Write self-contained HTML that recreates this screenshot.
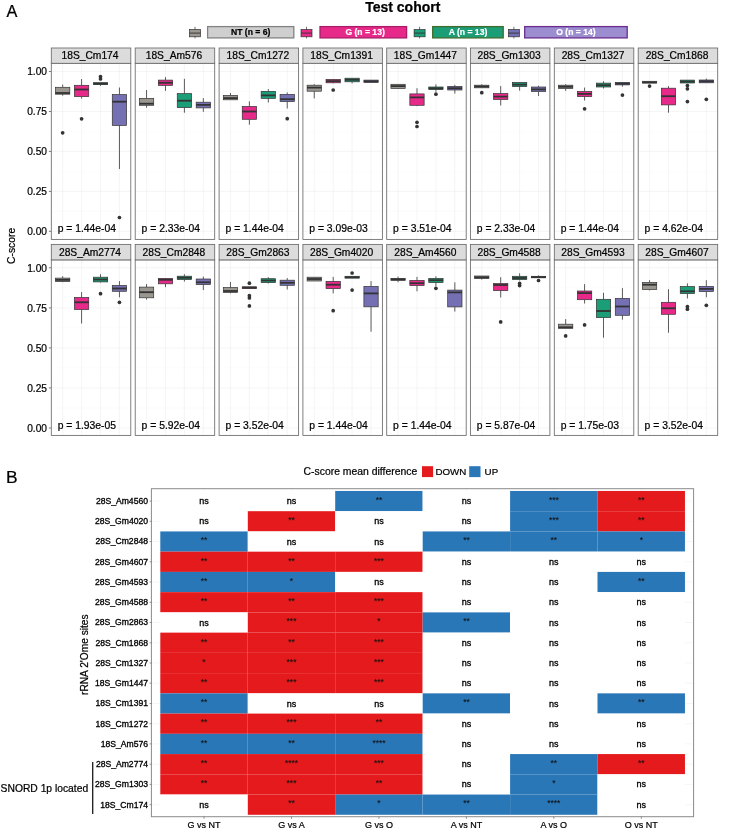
<!DOCTYPE html>
<html lang="en"><head><meta charset="utf-8"><title>Test cohort</title>
<style>html,body{margin:0;padding:0;background:#fff}svg{display:block}text{stroke:#000;stroke-width:.22px;paint-order:stroke fill}text.w{stroke:#fff;stroke-width:.2px}text.n{stroke:none}text.b{stroke-width:.32px}text.s{stroke:#111;stroke-width:.1px}</style></head>
<body>
<svg width="751" height="831" viewBox="0 0 751 831" font-family='"Liberation Sans", Arial, Helvetica, sans-serif'>
<rect width="751" height="831" fill="#fff"/>
<text x="6.6" y="16.8" font-size="16.3" fill="#000">A</text>
<text x="6.1" y="482.7" font-size="17.4" fill="#000">B</text>
<text x="402.8" y="11.5" font-size="14.0" font-weight="bold" text-anchor="middle" fill="#000">Test cohort</text>
<line x1="195.0" y1="26.8" x2="195.0" y2="38.4" stroke="#333333" stroke-width="0.7"/>
<rect x="189.5" y="29.5" width="11" height="7.3" fill="#9a9690" stroke="#333333" stroke-width="0.7"/>
<line x1="189.5" y1="33.1" x2="200.5" y2="33.1" stroke="#333333" stroke-width="0.9"/>
<rect x="207.6" y="26.6" width="86.2" height="11.3" fill="#cfcfcf" stroke="#828282" stroke-width="1.3"/>
<text x="250.7" y="35.2" font-size="8.6" font-weight="bold" text-anchor="middle" fill="#000" class="k">NT (n = 6)</text>
<line x1="306.5" y1="26.8" x2="306.5" y2="38.4" stroke="#333333" stroke-width="0.7"/>
<rect x="301.0" y="29.5" width="11" height="7.3" fill="#e7298a" stroke="#333333" stroke-width="0.7"/>
<line x1="301.0" y1="33.1" x2="312.0" y2="33.1" stroke="#333333" stroke-width="0.9"/>
<rect x="320.0" y="26.6" width="86.6" height="11.3" fill="#e7298a" stroke="#a81d66" stroke-width="1.3"/>
<text x="365.1" y="35.2" font-size="8.6" font-weight="bold" text-anchor="middle" fill="#fff" class="w">G (n = 13)</text>
<line x1="419.6" y1="26.8" x2="419.6" y2="38.4" stroke="#333333" stroke-width="0.7"/>
<rect x="414.1" y="29.5" width="11" height="7.3" fill="#1b9e77" stroke="#333333" stroke-width="0.7"/>
<line x1="414.1" y1="33.1" x2="425.1" y2="33.1" stroke="#333333" stroke-width="0.9"/>
<rect x="432.7" y="26.6" width="70.5" height="11.3" fill="#1b9e77" stroke="#3f6b2a" stroke-width="1.3"/>
<text x="468.0" y="35.2" font-size="8.6" font-weight="bold" text-anchor="middle" fill="#fff" class="w">A (n = 13)</text>
<line x1="513.9" y1="26.8" x2="513.9" y2="38.4" stroke="#333333" stroke-width="0.7"/>
<rect x="508.4" y="29.5" width="11" height="7.3" fill="#7570b3" stroke="#333333" stroke-width="0.7"/>
<line x1="508.4" y1="33.1" x2="519.4" y2="33.1" stroke="#333333" stroke-width="0.9"/>
<rect x="524.7" y="26.6" width="102.5" height="11.3" fill="#9b8dcf" stroke="#6a2d8f" stroke-width="1.3"/>
<text x="576.0" y="35.2" font-size="8.6" font-weight="bold" text-anchor="middle" fill="#fff" class="w">O (n = 14)</text>
<text transform="translate(15.0,245.9) rotate(-90)" font-size="10.3" text-anchor="middle" fill="#000">C-score</text>
<text x="47.0" y="75.2" font-size="10.2" text-anchor="end" fill="#000">1.00</text>
<line x1="48.9" y1="71.5" x2="51.3" y2="71.5" stroke="#444" stroke-width="0.7"/>
<text x="47.0" y="115.2" font-size="10.2" text-anchor="end" fill="#000">0.75</text>
<line x1="48.9" y1="111.5" x2="51.3" y2="111.5" stroke="#444" stroke-width="0.7"/>
<text x="47.0" y="155.1" font-size="10.2" text-anchor="end" fill="#000">0.50</text>
<line x1="48.9" y1="151.4" x2="51.3" y2="151.4" stroke="#444" stroke-width="0.7"/>
<text x="47.0" y="195.1" font-size="10.2" text-anchor="end" fill="#000">0.25</text>
<line x1="48.9" y1="191.4" x2="51.3" y2="191.4" stroke="#444" stroke-width="0.7"/>
<text x="47.0" y="235.0" font-size="10.2" text-anchor="end" fill="#000">0.00</text>
<line x1="48.9" y1="231.3" x2="51.3" y2="231.3" stroke="#444" stroke-width="0.7"/>
<g>
<rect x="51.3" y="63.3" width="79.5" height="176.1" fill="#fff"/>
<line x1="51.3" y1="91.5" x2="130.8" y2="91.5" stroke="#f8f8f8" stroke-width="0.45"/>
<line x1="51.3" y1="131.4" x2="130.8" y2="131.4" stroke="#f8f8f8" stroke-width="0.45"/>
<line x1="51.3" y1="171.4" x2="130.8" y2="171.4" stroke="#f8f8f8" stroke-width="0.45"/>
<line x1="51.3" y1="211.3" x2="130.8" y2="211.3" stroke="#f8f8f8" stroke-width="0.45"/>
<line x1="51.3" y1="71.5" x2="130.8" y2="71.5" stroke="#f0f0f0" stroke-width="0.65"/>
<line x1="51.3" y1="111.5" x2="130.8" y2="111.5" stroke="#f0f0f0" stroke-width="0.65"/>
<line x1="51.3" y1="151.4" x2="130.8" y2="151.4" stroke="#f0f0f0" stroke-width="0.65"/>
<line x1="51.3" y1="191.4" x2="130.8" y2="191.4" stroke="#f0f0f0" stroke-width="0.65"/>
<line x1="51.3" y1="231.3" x2="130.8" y2="231.3" stroke="#f0f0f0" stroke-width="0.65"/>
<line x1="62.7" y1="63.3" x2="62.7" y2="239.4" stroke="#f0f0f0" stroke-width="0.65"/>
<line x1="81.6" y1="63.3" x2="81.6" y2="239.4" stroke="#f0f0f0" stroke-width="0.65"/>
<line x1="100.5" y1="63.3" x2="100.5" y2="239.4" stroke="#f0f0f0" stroke-width="0.65"/>
<line x1="119.4" y1="63.3" x2="119.4" y2="239.4" stroke="#f0f0f0" stroke-width="0.65"/>
<line x1="62.66" y1="84.6" x2="62.66" y2="87.3" stroke="#333333" stroke-width="0.8"/>
<line x1="62.66" y1="94.2" x2="62.66" y2="95.7" stroke="#333333" stroke-width="0.8"/>
<rect x="55.51" y="87.3" width="14.30" height="6.9" fill="#9a9690" stroke="#333333" stroke-width="0.7"/>
<line x1="55.51" y1="93.0" x2="69.81" y2="93.0" stroke="#333333" stroke-width="1.8"/>
<circle cx="62.66" cy="132.8" r="1.85" fill="#333333"/>
<line x1="81.59" y1="79.0" x2="81.59" y2="85.3" stroke="#333333" stroke-width="0.8"/>
<line x1="81.59" y1="96.6" x2="81.59" y2="98.6" stroke="#333333" stroke-width="0.8"/>
<rect x="74.44" y="85.3" width="14.30" height="11.3" fill="#e7298a" stroke="#333333" stroke-width="0.7"/>
<line x1="74.44" y1="89.5" x2="88.74" y2="89.5" stroke="#333333" stroke-width="1.8"/>
<circle cx="81.59" cy="118.8" r="1.85" fill="#333333"/>
<line x1="100.51" y1="84.6" x2="100.51" y2="85.9" stroke="#333333" stroke-width="0.8"/>
<rect x="93.36" y="82.7" width="14.30" height="1.9" fill="#1b9e77" stroke="#333333" stroke-width="0.7"/>
<line x1="93.36" y1="83.7" x2="107.66" y2="83.7" stroke="#333333" stroke-width="1.8"/>
<circle cx="100.51" cy="76.6" r="1.85" fill="#333333"/>
<circle cx="100.51" cy="78.9" r="1.85" fill="#333333"/>
<line x1="119.44" y1="87.5" x2="119.44" y2="94.6" stroke="#333333" stroke-width="0.8"/>
<line x1="119.44" y1="125.4" x2="119.44" y2="169.0" stroke="#333333" stroke-width="0.8"/>
<rect x="112.29" y="94.6" width="14.30" height="30.8" fill="#7570b3" stroke="#333333" stroke-width="0.7"/>
<line x1="112.29" y1="101.7" x2="126.59" y2="101.7" stroke="#333333" stroke-width="1.8"/>
<circle cx="119.44" cy="217.5" r="1.85" fill="#333333"/>
<text x="57.7" y="232.3" font-size="10.35" fill="#000">p = 1.44e-04</text>
<rect x="51.3" y="63.3" width="79.5" height="176.1" fill="none" stroke="#6a6a6a" stroke-width="0.85"/>
<rect x="51.3" y="48.0" width="79.5" height="15.3" fill="#dcdcdc" stroke="#6a6a6a" stroke-width="0.85"/>
<text x="90.0" y="58.6" font-size="10.25" text-anchor="middle" fill="#000">18S_Cm174</text>
</g>
<g>
<rect x="135.2" y="63.3" width="79.5" height="176.1" fill="#fff"/>
<line x1="135.2" y1="91.5" x2="214.7" y2="91.5" stroke="#f8f8f8" stroke-width="0.45"/>
<line x1="135.2" y1="131.4" x2="214.7" y2="131.4" stroke="#f8f8f8" stroke-width="0.45"/>
<line x1="135.2" y1="171.4" x2="214.7" y2="171.4" stroke="#f8f8f8" stroke-width="0.45"/>
<line x1="135.2" y1="211.3" x2="214.7" y2="211.3" stroke="#f8f8f8" stroke-width="0.45"/>
<line x1="135.2" y1="71.5" x2="214.7" y2="71.5" stroke="#f0f0f0" stroke-width="0.65"/>
<line x1="135.2" y1="111.5" x2="214.7" y2="111.5" stroke="#f0f0f0" stroke-width="0.65"/>
<line x1="135.2" y1="151.4" x2="214.7" y2="151.4" stroke="#f0f0f0" stroke-width="0.65"/>
<line x1="135.2" y1="191.4" x2="214.7" y2="191.4" stroke="#f0f0f0" stroke-width="0.65"/>
<line x1="135.2" y1="231.3" x2="214.7" y2="231.3" stroke="#f0f0f0" stroke-width="0.65"/>
<line x1="146.6" y1="63.3" x2="146.6" y2="239.4" stroke="#f0f0f0" stroke-width="0.65"/>
<line x1="165.5" y1="63.3" x2="165.5" y2="239.4" stroke="#f0f0f0" stroke-width="0.65"/>
<line x1="184.4" y1="63.3" x2="184.4" y2="239.4" stroke="#f0f0f0" stroke-width="0.65"/>
<line x1="203.3" y1="63.3" x2="203.3" y2="239.4" stroke="#f0f0f0" stroke-width="0.65"/>
<line x1="146.56" y1="90.0" x2="146.56" y2="98.4" stroke="#333333" stroke-width="0.8"/>
<line x1="146.56" y1="105.3" x2="146.56" y2="107.7" stroke="#333333" stroke-width="0.8"/>
<rect x="139.41" y="98.4" width="14.30" height="6.9" fill="#9a9690" stroke="#333333" stroke-width="0.7"/>
<line x1="139.41" y1="103.7" x2="153.71" y2="103.7" stroke="#333333" stroke-width="1.8"/>
<line x1="165.49" y1="77.1" x2="165.49" y2="80.1" stroke="#333333" stroke-width="0.8"/>
<line x1="165.49" y1="85.4" x2="165.49" y2="90.9" stroke="#333333" stroke-width="0.8"/>
<rect x="158.34" y="80.1" width="14.30" height="5.3" fill="#e7298a" stroke="#333333" stroke-width="0.7"/>
<line x1="158.34" y1="82.8" x2="172.64" y2="82.8" stroke="#333333" stroke-width="1.8"/>
<line x1="184.41" y1="78.8" x2="184.41" y2="93.6" stroke="#333333" stroke-width="0.8"/>
<line x1="184.41" y1="107.6" x2="184.41" y2="112.7" stroke="#333333" stroke-width="0.8"/>
<rect x="177.26" y="93.6" width="14.30" height="14.0" fill="#1b9e77" stroke="#333333" stroke-width="0.7"/>
<line x1="177.26" y1="100.7" x2="191.56" y2="100.7" stroke="#333333" stroke-width="1.8"/>
<line x1="203.34" y1="98.1" x2="203.34" y2="102.2" stroke="#333333" stroke-width="0.8"/>
<line x1="203.34" y1="107.9" x2="203.34" y2="111.8" stroke="#333333" stroke-width="0.8"/>
<rect x="196.19" y="102.2" width="14.30" height="5.7" fill="#7570b3" stroke="#333333" stroke-width="0.7"/>
<line x1="196.19" y1="104.9" x2="210.49" y2="104.9" stroke="#333333" stroke-width="1.8"/>
<text x="141.6" y="232.3" font-size="10.35" fill="#000">p = 2.33e-04</text>
<rect x="135.2" y="63.3" width="79.5" height="176.1" fill="none" stroke="#6a6a6a" stroke-width="0.85"/>
<rect x="135.2" y="48.0" width="79.5" height="15.3" fill="#dcdcdc" stroke="#6a6a6a" stroke-width="0.85"/>
<text x="173.9" y="58.6" font-size="10.25" text-anchor="middle" fill="#000">18S_Am576</text>
</g>
<g>
<rect x="219.1" y="63.3" width="79.5" height="176.1" fill="#fff"/>
<line x1="219.1" y1="91.5" x2="298.6" y2="91.5" stroke="#f8f8f8" stroke-width="0.45"/>
<line x1="219.1" y1="131.4" x2="298.6" y2="131.4" stroke="#f8f8f8" stroke-width="0.45"/>
<line x1="219.1" y1="171.4" x2="298.6" y2="171.4" stroke="#f8f8f8" stroke-width="0.45"/>
<line x1="219.1" y1="211.3" x2="298.6" y2="211.3" stroke="#f8f8f8" stroke-width="0.45"/>
<line x1="219.1" y1="71.5" x2="298.6" y2="71.5" stroke="#f0f0f0" stroke-width="0.65"/>
<line x1="219.1" y1="111.5" x2="298.6" y2="111.5" stroke="#f0f0f0" stroke-width="0.65"/>
<line x1="219.1" y1="151.4" x2="298.6" y2="151.4" stroke="#f0f0f0" stroke-width="0.65"/>
<line x1="219.1" y1="191.4" x2="298.6" y2="191.4" stroke="#f0f0f0" stroke-width="0.65"/>
<line x1="219.1" y1="231.3" x2="298.6" y2="231.3" stroke="#f0f0f0" stroke-width="0.65"/>
<line x1="230.5" y1="63.3" x2="230.5" y2="239.4" stroke="#f0f0f0" stroke-width="0.65"/>
<line x1="249.4" y1="63.3" x2="249.4" y2="239.4" stroke="#f0f0f0" stroke-width="0.65"/>
<line x1="268.3" y1="63.3" x2="268.3" y2="239.4" stroke="#f0f0f0" stroke-width="0.65"/>
<line x1="287.2" y1="63.3" x2="287.2" y2="239.4" stroke="#f0f0f0" stroke-width="0.65"/>
<line x1="230.46" y1="93.0" x2="230.46" y2="95.4" stroke="#333333" stroke-width="0.8"/>
<rect x="223.31" y="95.4" width="14.30" height="4.4" fill="#9a9690" stroke="#333333" stroke-width="0.7"/>
<line x1="223.31" y1="98.1" x2="237.61" y2="98.1" stroke="#333333" stroke-width="1.8"/>
<line x1="249.39" y1="101.3" x2="249.39" y2="106.5" stroke="#333333" stroke-width="0.8"/>
<line x1="249.39" y1="119.3" x2="249.39" y2="124.7" stroke="#333333" stroke-width="0.8"/>
<rect x="242.24" y="106.5" width="14.30" height="12.8" fill="#e7298a" stroke="#333333" stroke-width="0.7"/>
<line x1="242.24" y1="111.5" x2="256.54" y2="111.5" stroke="#333333" stroke-width="1.8"/>
<line x1="268.31" y1="89.1" x2="268.31" y2="91.4" stroke="#333333" stroke-width="0.8"/>
<line x1="268.31" y1="98.4" x2="268.31" y2="102.5" stroke="#333333" stroke-width="0.8"/>
<rect x="261.16" y="91.4" width="14.30" height="7.0" fill="#1b9e77" stroke="#333333" stroke-width="0.7"/>
<line x1="261.16" y1="95.4" x2="275.46" y2="95.4" stroke="#333333" stroke-width="1.8"/>
<line x1="287.24" y1="92.4" x2="287.24" y2="94.4" stroke="#333333" stroke-width="0.8"/>
<line x1="287.24" y1="101.6" x2="287.24" y2="108.5" stroke="#333333" stroke-width="0.8"/>
<rect x="280.09" y="94.4" width="14.30" height="7.2" fill="#7570b3" stroke="#333333" stroke-width="0.7"/>
<line x1="280.09" y1="99.2" x2="294.39" y2="99.2" stroke="#333333" stroke-width="1.8"/>
<circle cx="287.24" cy="118.7" r="1.85" fill="#333333"/>
<text x="225.5" y="232.3" font-size="10.35" fill="#000">p = 1.44e-04</text>
<rect x="219.1" y="63.3" width="79.5" height="176.1" fill="none" stroke="#6a6a6a" stroke-width="0.85"/>
<rect x="219.1" y="48.0" width="79.5" height="15.3" fill="#dcdcdc" stroke="#6a6a6a" stroke-width="0.85"/>
<text x="257.9" y="58.6" font-size="10.25" text-anchor="middle" fill="#000">18S_Cm1272</text>
</g>
<g>
<rect x="302.9" y="63.3" width="79.5" height="176.1" fill="#fff"/>
<line x1="302.9" y1="91.5" x2="382.4" y2="91.5" stroke="#f8f8f8" stroke-width="0.45"/>
<line x1="302.9" y1="131.4" x2="382.4" y2="131.4" stroke="#f8f8f8" stroke-width="0.45"/>
<line x1="302.9" y1="171.4" x2="382.4" y2="171.4" stroke="#f8f8f8" stroke-width="0.45"/>
<line x1="302.9" y1="211.3" x2="382.4" y2="211.3" stroke="#f8f8f8" stroke-width="0.45"/>
<line x1="302.9" y1="71.5" x2="382.4" y2="71.5" stroke="#f0f0f0" stroke-width="0.65"/>
<line x1="302.9" y1="111.5" x2="382.4" y2="111.5" stroke="#f0f0f0" stroke-width="0.65"/>
<line x1="302.9" y1="151.4" x2="382.4" y2="151.4" stroke="#f0f0f0" stroke-width="0.65"/>
<line x1="302.9" y1="191.4" x2="382.4" y2="191.4" stroke="#f0f0f0" stroke-width="0.65"/>
<line x1="302.9" y1="231.3" x2="382.4" y2="231.3" stroke="#f0f0f0" stroke-width="0.65"/>
<line x1="314.3" y1="63.3" x2="314.3" y2="239.4" stroke="#f0f0f0" stroke-width="0.65"/>
<line x1="333.2" y1="63.3" x2="333.2" y2="239.4" stroke="#f0f0f0" stroke-width="0.65"/>
<line x1="352.1" y1="63.3" x2="352.1" y2="239.4" stroke="#f0f0f0" stroke-width="0.65"/>
<line x1="371.0" y1="63.3" x2="371.0" y2="239.4" stroke="#f0f0f0" stroke-width="0.65"/>
<line x1="314.26" y1="84.2" x2="314.26" y2="85.2" stroke="#333333" stroke-width="0.8"/>
<line x1="314.26" y1="91.2" x2="314.26" y2="98.4" stroke="#333333" stroke-width="0.8"/>
<rect x="307.11" y="85.2" width="14.30" height="6.0" fill="#9a9690" stroke="#333333" stroke-width="0.7"/>
<line x1="307.11" y1="87.6" x2="321.41" y2="87.6" stroke="#333333" stroke-width="1.8"/>
<line x1="333.19" y1="82.8" x2="333.19" y2="83.3" stroke="#333333" stroke-width="0.8"/>
<rect x="326.04" y="79.4" width="14.30" height="3.4" fill="#e7298a" stroke="#333333" stroke-width="0.7"/>
<line x1="326.04" y1="81.1" x2="340.34" y2="81.1" stroke="#333333" stroke-width="1.8"/>
<circle cx="333.19" cy="90.0" r="1.85" fill="#333333"/>
<line x1="352.11" y1="81.8" x2="352.11" y2="83.4" stroke="#333333" stroke-width="0.8"/>
<rect x="344.96" y="78.2" width="14.30" height="3.6" fill="#1b9e77" stroke="#333333" stroke-width="0.7"/>
<line x1="344.96" y1="79.8" x2="359.26" y2="79.8" stroke="#333333" stroke-width="1.8"/>
<rect x="363.89" y="80.1" width="14.30" height="2.4" fill="#7570b3" stroke="#333333" stroke-width="0.7"/>
<line x1="363.89" y1="81.3" x2="378.19" y2="81.3" stroke="#333333" stroke-width="1.8"/>
<text x="309.3" y="232.3" font-size="10.35" fill="#000">p = 3.09e-03</text>
<rect x="302.9" y="63.3" width="79.5" height="176.1" fill="none" stroke="#6a6a6a" stroke-width="0.85"/>
<rect x="302.9" y="48.0" width="79.5" height="15.3" fill="#dcdcdc" stroke="#6a6a6a" stroke-width="0.85"/>
<text x="341.6" y="58.6" font-size="10.25" text-anchor="middle" fill="#000">18S_Cm1391</text>
</g>
<g>
<rect x="386.7" y="63.3" width="79.5" height="176.1" fill="#fff"/>
<line x1="386.7" y1="91.5" x2="466.2" y2="91.5" stroke="#f8f8f8" stroke-width="0.45"/>
<line x1="386.7" y1="131.4" x2="466.2" y2="131.4" stroke="#f8f8f8" stroke-width="0.45"/>
<line x1="386.7" y1="171.4" x2="466.2" y2="171.4" stroke="#f8f8f8" stroke-width="0.45"/>
<line x1="386.7" y1="211.3" x2="466.2" y2="211.3" stroke="#f8f8f8" stroke-width="0.45"/>
<line x1="386.7" y1="71.5" x2="466.2" y2="71.5" stroke="#f0f0f0" stroke-width="0.65"/>
<line x1="386.7" y1="111.5" x2="466.2" y2="111.5" stroke="#f0f0f0" stroke-width="0.65"/>
<line x1="386.7" y1="151.4" x2="466.2" y2="151.4" stroke="#f0f0f0" stroke-width="0.65"/>
<line x1="386.7" y1="191.4" x2="466.2" y2="191.4" stroke="#f0f0f0" stroke-width="0.65"/>
<line x1="386.7" y1="231.3" x2="466.2" y2="231.3" stroke="#f0f0f0" stroke-width="0.65"/>
<line x1="398.1" y1="63.3" x2="398.1" y2="239.4" stroke="#f0f0f0" stroke-width="0.65"/>
<line x1="417.0" y1="63.3" x2="417.0" y2="239.4" stroke="#f0f0f0" stroke-width="0.65"/>
<line x1="435.9" y1="63.3" x2="435.9" y2="239.4" stroke="#f0f0f0" stroke-width="0.65"/>
<line x1="454.8" y1="63.3" x2="454.8" y2="239.4" stroke="#f0f0f0" stroke-width="0.65"/>
<line x1="398.06" y1="84.0" x2="398.06" y2="84.3" stroke="#333333" stroke-width="0.8"/>
<line x1="398.06" y1="88.4" x2="398.06" y2="88.8" stroke="#333333" stroke-width="0.8"/>
<rect x="390.91" y="84.3" width="14.30" height="4.1" fill="#9a9690" stroke="#333333" stroke-width="0.7"/>
<line x1="390.91" y1="86.1" x2="405.21" y2="86.1" stroke="#333333" stroke-width="1.8"/>
<line x1="416.99" y1="88.2" x2="416.99" y2="93.9" stroke="#333333" stroke-width="0.8"/>
<line x1="416.99" y1="105.3" x2="416.99" y2="106.1" stroke="#333333" stroke-width="0.8"/>
<rect x="409.84" y="93.9" width="14.30" height="11.4" fill="#e7298a" stroke="#333333" stroke-width="0.7"/>
<line x1="409.84" y1="97.4" x2="424.14" y2="97.4" stroke="#333333" stroke-width="1.8"/>
<circle cx="416.99" cy="122.3" r="1.85" fill="#333333"/>
<circle cx="416.99" cy="126.5" r="1.85" fill="#333333"/>
<line x1="435.91" y1="84.3" x2="435.91" y2="87.0" stroke="#333333" stroke-width="0.8"/>
<line x1="435.91" y1="89.6" x2="435.91" y2="91.8" stroke="#333333" stroke-width="0.8"/>
<rect x="428.76" y="87.0" width="14.30" height="2.6" fill="#1b9e77" stroke="#333333" stroke-width="0.7"/>
<line x1="428.76" y1="88.3" x2="443.06" y2="88.3" stroke="#333333" stroke-width="1.8"/>
<circle cx="435.91" cy="94.2" r="1.85" fill="#333333"/>
<line x1="454.84" y1="84.9" x2="454.84" y2="86.4" stroke="#333333" stroke-width="0.8"/>
<line x1="454.84" y1="90.0" x2="454.84" y2="93.6" stroke="#333333" stroke-width="0.8"/>
<rect x="447.69" y="86.4" width="14.30" height="3.6" fill="#7570b3" stroke="#333333" stroke-width="0.7"/>
<line x1="447.69" y1="88.2" x2="461.99" y2="88.2" stroke="#333333" stroke-width="1.8"/>
<text x="393.1" y="232.3" font-size="10.35" fill="#000">p = 3.51e-04</text>
<rect x="386.7" y="63.3" width="79.5" height="176.1" fill="none" stroke="#6a6a6a" stroke-width="0.85"/>
<rect x="386.7" y="48.0" width="79.5" height="15.3" fill="#dcdcdc" stroke="#6a6a6a" stroke-width="0.85"/>
<text x="425.4" y="58.6" font-size="10.25" text-anchor="middle" fill="#000">18S_Gm1447</text>
</g>
<g>
<rect x="470.4" y="63.3" width="79.5" height="176.1" fill="#fff"/>
<line x1="470.4" y1="91.5" x2="549.9" y2="91.5" stroke="#f8f8f8" stroke-width="0.45"/>
<line x1="470.4" y1="131.4" x2="549.9" y2="131.4" stroke="#f8f8f8" stroke-width="0.45"/>
<line x1="470.4" y1="171.4" x2="549.9" y2="171.4" stroke="#f8f8f8" stroke-width="0.45"/>
<line x1="470.4" y1="211.3" x2="549.9" y2="211.3" stroke="#f8f8f8" stroke-width="0.45"/>
<line x1="470.4" y1="71.5" x2="549.9" y2="71.5" stroke="#f0f0f0" stroke-width="0.65"/>
<line x1="470.4" y1="111.5" x2="549.9" y2="111.5" stroke="#f0f0f0" stroke-width="0.65"/>
<line x1="470.4" y1="151.4" x2="549.9" y2="151.4" stroke="#f0f0f0" stroke-width="0.65"/>
<line x1="470.4" y1="191.4" x2="549.9" y2="191.4" stroke="#f0f0f0" stroke-width="0.65"/>
<line x1="470.4" y1="231.3" x2="549.9" y2="231.3" stroke="#f0f0f0" stroke-width="0.65"/>
<line x1="481.8" y1="63.3" x2="481.8" y2="239.4" stroke="#f0f0f0" stroke-width="0.65"/>
<line x1="500.7" y1="63.3" x2="500.7" y2="239.4" stroke="#f0f0f0" stroke-width="0.65"/>
<line x1="519.6" y1="63.3" x2="519.6" y2="239.4" stroke="#f0f0f0" stroke-width="0.65"/>
<line x1="538.5" y1="63.3" x2="538.5" y2="239.4" stroke="#f0f0f0" stroke-width="0.65"/>
<line x1="481.76" y1="84.3" x2="481.76" y2="85.2" stroke="#333333" stroke-width="0.8"/>
<rect x="474.61" y="85.2" width="14.30" height="2.6" fill="#9a9690" stroke="#333333" stroke-width="0.7"/>
<line x1="474.61" y1="86.5" x2="488.91" y2="86.5" stroke="#333333" stroke-width="1.8"/>
<circle cx="481.76" cy="92.7" r="1.85" fill="#333333"/>
<line x1="500.69" y1="86.1" x2="500.69" y2="93.6" stroke="#333333" stroke-width="0.8"/>
<line x1="500.69" y1="99.5" x2="500.69" y2="105.5" stroke="#333333" stroke-width="0.8"/>
<rect x="493.54" y="93.6" width="14.30" height="5.9" fill="#e7298a" stroke="#333333" stroke-width="0.7"/>
<line x1="493.54" y1="96.6" x2="507.84" y2="96.6" stroke="#333333" stroke-width="1.8"/>
<line x1="519.61" y1="86.6" x2="519.61" y2="90.6" stroke="#333333" stroke-width="0.8"/>
<rect x="512.46" y="82.4" width="14.30" height="4.2" fill="#1b9e77" stroke="#333333" stroke-width="0.7"/>
<line x1="512.46" y1="84.6" x2="526.76" y2="84.6" stroke="#333333" stroke-width="1.8"/>
<line x1="538.54" y1="85.8" x2="538.54" y2="87.0" stroke="#333333" stroke-width="0.8"/>
<line x1="538.54" y1="91.5" x2="538.54" y2="96.0" stroke="#333333" stroke-width="0.8"/>
<rect x="531.39" y="87.0" width="14.30" height="4.5" fill="#7570b3" stroke="#333333" stroke-width="0.7"/>
<line x1="531.39" y1="89.4" x2="545.69" y2="89.4" stroke="#333333" stroke-width="1.8"/>
<text x="476.8" y="232.3" font-size="10.35" fill="#000">p = 2.33e-04</text>
<rect x="470.4" y="63.3" width="79.5" height="176.1" fill="none" stroke="#6a6a6a" stroke-width="0.85"/>
<rect x="470.4" y="48.0" width="79.5" height="15.3" fill="#dcdcdc" stroke="#6a6a6a" stroke-width="0.85"/>
<text x="509.1" y="58.6" font-size="10.25" text-anchor="middle" fill="#000">28S_Gm1303</text>
</g>
<g>
<rect x="554.3" y="63.3" width="79.5" height="176.1" fill="#fff"/>
<line x1="554.3" y1="91.5" x2="633.8" y2="91.5" stroke="#f8f8f8" stroke-width="0.45"/>
<line x1="554.3" y1="131.4" x2="633.8" y2="131.4" stroke="#f8f8f8" stroke-width="0.45"/>
<line x1="554.3" y1="171.4" x2="633.8" y2="171.4" stroke="#f8f8f8" stroke-width="0.45"/>
<line x1="554.3" y1="211.3" x2="633.8" y2="211.3" stroke="#f8f8f8" stroke-width="0.45"/>
<line x1="554.3" y1="71.5" x2="633.8" y2="71.5" stroke="#f0f0f0" stroke-width="0.65"/>
<line x1="554.3" y1="111.5" x2="633.8" y2="111.5" stroke="#f0f0f0" stroke-width="0.65"/>
<line x1="554.3" y1="151.4" x2="633.8" y2="151.4" stroke="#f0f0f0" stroke-width="0.65"/>
<line x1="554.3" y1="191.4" x2="633.8" y2="191.4" stroke="#f0f0f0" stroke-width="0.65"/>
<line x1="554.3" y1="231.3" x2="633.8" y2="231.3" stroke="#f0f0f0" stroke-width="0.65"/>
<line x1="565.7" y1="63.3" x2="565.7" y2="239.4" stroke="#f0f0f0" stroke-width="0.65"/>
<line x1="584.6" y1="63.3" x2="584.6" y2="239.4" stroke="#f0f0f0" stroke-width="0.65"/>
<line x1="603.5" y1="63.3" x2="603.5" y2="239.4" stroke="#f0f0f0" stroke-width="0.65"/>
<line x1="622.4" y1="63.3" x2="622.4" y2="239.4" stroke="#f0f0f0" stroke-width="0.65"/>
<line x1="565.66" y1="84.2" x2="565.66" y2="85.2" stroke="#333333" stroke-width="0.8"/>
<line x1="565.66" y1="88.5" x2="565.66" y2="90.9" stroke="#333333" stroke-width="0.8"/>
<rect x="558.51" y="85.2" width="14.30" height="3.3" fill="#9a9690" stroke="#333333" stroke-width="0.7"/>
<line x1="558.51" y1="86.8" x2="572.81" y2="86.8" stroke="#333333" stroke-width="1.8"/>
<line x1="584.59" y1="87.6" x2="584.59" y2="91.5" stroke="#333333" stroke-width="0.8"/>
<line x1="584.59" y1="96.6" x2="584.59" y2="100.5" stroke="#333333" stroke-width="0.8"/>
<rect x="577.44" y="91.5" width="14.30" height="5.1" fill="#e7298a" stroke="#333333" stroke-width="0.7"/>
<line x1="577.44" y1="93.9" x2="591.74" y2="93.9" stroke="#333333" stroke-width="1.8"/>
<circle cx="584.59" cy="108.8" r="1.85" fill="#333333"/>
<line x1="603.51" y1="81.3" x2="603.51" y2="83.1" stroke="#333333" stroke-width="0.8"/>
<line x1="603.51" y1="87.0" x2="603.51" y2="88.5" stroke="#333333" stroke-width="0.8"/>
<rect x="596.36" y="83.1" width="14.30" height="3.9" fill="#1b9e77" stroke="#333333" stroke-width="0.7"/>
<line x1="596.36" y1="85.2" x2="610.66" y2="85.2" stroke="#333333" stroke-width="1.8"/>
<line x1="622.44" y1="84.9" x2="622.44" y2="86.6" stroke="#333333" stroke-width="0.8"/>
<rect x="615.29" y="82.4" width="14.30" height="2.5" fill="#7570b3" stroke="#333333" stroke-width="0.7"/>
<line x1="615.29" y1="83.7" x2="629.59" y2="83.7" stroke="#333333" stroke-width="1.8"/>
<circle cx="622.44" cy="95.1" r="1.85" fill="#333333"/>
<text x="560.7" y="232.3" font-size="10.35" fill="#000">p = 1.44e-04</text>
<rect x="554.3" y="63.3" width="79.5" height="176.1" fill="none" stroke="#6a6a6a" stroke-width="0.85"/>
<rect x="554.3" y="48.0" width="79.5" height="15.3" fill="#dcdcdc" stroke="#6a6a6a" stroke-width="0.85"/>
<text x="593.0" y="58.6" font-size="10.25" text-anchor="middle" fill="#000">28S_Cm1327</text>
</g>
<g>
<rect x="638.2" y="63.3" width="79.5" height="176.1" fill="#fff"/>
<line x1="638.2" y1="91.5" x2="717.7" y2="91.5" stroke="#f8f8f8" stroke-width="0.45"/>
<line x1="638.2" y1="131.4" x2="717.7" y2="131.4" stroke="#f8f8f8" stroke-width="0.45"/>
<line x1="638.2" y1="171.4" x2="717.7" y2="171.4" stroke="#f8f8f8" stroke-width="0.45"/>
<line x1="638.2" y1="211.3" x2="717.7" y2="211.3" stroke="#f8f8f8" stroke-width="0.45"/>
<line x1="638.2" y1="71.5" x2="717.7" y2="71.5" stroke="#f0f0f0" stroke-width="0.65"/>
<line x1="638.2" y1="111.5" x2="717.7" y2="111.5" stroke="#f0f0f0" stroke-width="0.65"/>
<line x1="638.2" y1="151.4" x2="717.7" y2="151.4" stroke="#f0f0f0" stroke-width="0.65"/>
<line x1="638.2" y1="191.4" x2="717.7" y2="191.4" stroke="#f0f0f0" stroke-width="0.65"/>
<line x1="638.2" y1="231.3" x2="717.7" y2="231.3" stroke="#f0f0f0" stroke-width="0.65"/>
<line x1="649.6" y1="63.3" x2="649.6" y2="239.4" stroke="#f0f0f0" stroke-width="0.65"/>
<line x1="668.5" y1="63.3" x2="668.5" y2="239.4" stroke="#f0f0f0" stroke-width="0.65"/>
<line x1="687.4" y1="63.3" x2="687.4" y2="239.4" stroke="#f0f0f0" stroke-width="0.65"/>
<line x1="706.3" y1="63.3" x2="706.3" y2="239.4" stroke="#f0f0f0" stroke-width="0.65"/>
<rect x="642.41" y="81.3" width="14.30" height="1.8" fill="#9a9690" stroke="#333333" stroke-width="0.7"/>
<line x1="642.41" y1="82.3" x2="656.71" y2="82.3" stroke="#333333" stroke-width="1.8"/>
<circle cx="649.56" cy="86.1" r="1.85" fill="#333333"/>
<line x1="668.49" y1="86.1" x2="668.49" y2="88.2" stroke="#333333" stroke-width="0.8"/>
<line x1="668.49" y1="104.9" x2="668.49" y2="112.7" stroke="#333333" stroke-width="0.8"/>
<rect x="661.34" y="88.2" width="14.30" height="16.7" fill="#e7298a" stroke="#333333" stroke-width="0.7"/>
<line x1="661.34" y1="96.2" x2="675.64" y2="96.2" stroke="#333333" stroke-width="1.8"/>
<rect x="680.26" y="80.1" width="14.30" height="2.9" fill="#1b9e77" stroke="#333333" stroke-width="0.7"/>
<line x1="680.26" y1="81.6" x2="694.56" y2="81.6" stroke="#333333" stroke-width="1.8"/>
<circle cx="687.41" cy="85.6" r="1.85" fill="#333333"/>
<circle cx="687.41" cy="88.8" r="1.85" fill="#333333"/>
<circle cx="687.41" cy="101.6" r="1.85" fill="#333333"/>
<line x1="706.34" y1="78.6" x2="706.34" y2="80.0" stroke="#333333" stroke-width="0.8"/>
<rect x="699.19" y="80.0" width="14.30" height="2.8" fill="#7570b3" stroke="#333333" stroke-width="0.7"/>
<line x1="699.19" y1="81.3" x2="713.49" y2="81.3" stroke="#333333" stroke-width="1.8"/>
<circle cx="706.34" cy="99.3" r="1.85" fill="#333333"/>
<text x="644.6" y="232.3" font-size="10.35" fill="#000">p = 4.62e-04</text>
<rect x="638.2" y="63.3" width="79.5" height="176.1" fill="none" stroke="#6a6a6a" stroke-width="0.85"/>
<rect x="638.2" y="48.0" width="79.5" height="15.3" fill="#dcdcdc" stroke="#6a6a6a" stroke-width="0.85"/>
<text x="677.0" y="58.6" font-size="10.25" text-anchor="middle" fill="#000">28S_Cm1868</text>
</g>
<text x="47.0" y="271.9" font-size="10.2" text-anchor="end" fill="#000">1.00</text>
<line x1="48.9" y1="267.8" x2="51.3" y2="267.8" stroke="#444" stroke-width="0.7"/>
<text x="47.0" y="311.9" font-size="10.2" text-anchor="end" fill="#000">0.75</text>
<line x1="48.9" y1="307.9" x2="51.3" y2="307.9" stroke="#444" stroke-width="0.7"/>
<text x="47.0" y="352.0" font-size="10.2" text-anchor="end" fill="#000">0.50</text>
<line x1="48.9" y1="347.9" x2="51.3" y2="347.9" stroke="#444" stroke-width="0.7"/>
<text x="47.0" y="392.0" font-size="10.2" text-anchor="end" fill="#000">0.25</text>
<line x1="48.9" y1="387.9" x2="51.3" y2="387.9" stroke="#444" stroke-width="0.7"/>
<text x="47.0" y="432.1" font-size="10.2" text-anchor="end" fill="#000">0.00</text>
<line x1="48.9" y1="428.0" x2="51.3" y2="428.0" stroke="#444" stroke-width="0.7"/>
<g>
<rect x="51.3" y="259.9" width="79.5" height="175.5" fill="#fff"/>
<line x1="51.3" y1="287.8" x2="130.8" y2="287.8" stroke="#f8f8f8" stroke-width="0.45"/>
<line x1="51.3" y1="327.9" x2="130.8" y2="327.9" stroke="#f8f8f8" stroke-width="0.45"/>
<line x1="51.3" y1="367.9" x2="130.8" y2="367.9" stroke="#f8f8f8" stroke-width="0.45"/>
<line x1="51.3" y1="408.0" x2="130.8" y2="408.0" stroke="#f8f8f8" stroke-width="0.45"/>
<line x1="51.3" y1="267.8" x2="130.8" y2="267.8" stroke="#f0f0f0" stroke-width="0.65"/>
<line x1="51.3" y1="307.9" x2="130.8" y2="307.9" stroke="#f0f0f0" stroke-width="0.65"/>
<line x1="51.3" y1="347.9" x2="130.8" y2="347.9" stroke="#f0f0f0" stroke-width="0.65"/>
<line x1="51.3" y1="387.9" x2="130.8" y2="387.9" stroke="#f0f0f0" stroke-width="0.65"/>
<line x1="51.3" y1="428.0" x2="130.8" y2="428.0" stroke="#f0f0f0" stroke-width="0.65"/>
<line x1="62.7" y1="259.9" x2="62.7" y2="435.4" stroke="#f0f0f0" stroke-width="0.65"/>
<line x1="81.6" y1="259.9" x2="81.6" y2="435.4" stroke="#f0f0f0" stroke-width="0.65"/>
<line x1="100.5" y1="259.9" x2="100.5" y2="435.4" stroke="#f0f0f0" stroke-width="0.65"/>
<line x1="119.4" y1="259.9" x2="119.4" y2="435.4" stroke="#f0f0f0" stroke-width="0.65"/>
<line x1="62.66" y1="276.3" x2="62.66" y2="278.1" stroke="#333333" stroke-width="0.8"/>
<line x1="62.66" y1="281.6" x2="62.66" y2="282.2" stroke="#333333" stroke-width="0.8"/>
<rect x="55.51" y="278.1" width="14.30" height="3.5" fill="#9a9690" stroke="#333333" stroke-width="0.7"/>
<line x1="55.51" y1="279.9" x2="69.81" y2="279.9" stroke="#333333" stroke-width="1.8"/>
<line x1="81.59" y1="292.1" x2="81.59" y2="297.5" stroke="#333333" stroke-width="0.8"/>
<line x1="81.59" y1="309.5" x2="81.59" y2="323.5" stroke="#333333" stroke-width="0.8"/>
<rect x="74.44" y="297.5" width="14.30" height="12.0" fill="#e7298a" stroke="#333333" stroke-width="0.7"/>
<line x1="74.44" y1="302.3" x2="88.74" y2="302.3" stroke="#333333" stroke-width="1.8"/>
<line x1="100.51" y1="274.2" x2="100.51" y2="277.2" stroke="#333333" stroke-width="0.8"/>
<line x1="100.51" y1="281.9" x2="100.51" y2="282.5" stroke="#333333" stroke-width="0.8"/>
<rect x="93.36" y="277.2" width="14.30" height="4.7" fill="#1b9e77" stroke="#333333" stroke-width="0.7"/>
<line x1="93.36" y1="279.5" x2="107.66" y2="279.5" stroke="#333333" stroke-width="1.8"/>
<circle cx="100.51" cy="293.7" r="1.85" fill="#333333"/>
<line x1="119.44" y1="281.1" x2="119.44" y2="285.5" stroke="#333333" stroke-width="0.8"/>
<line x1="119.44" y1="291.3" x2="119.44" y2="297.3" stroke="#333333" stroke-width="0.8"/>
<rect x="112.29" y="285.5" width="14.30" height="5.8" fill="#7570b3" stroke="#333333" stroke-width="0.7"/>
<line x1="112.29" y1="288.5" x2="126.59" y2="288.5" stroke="#333333" stroke-width="1.8"/>
<circle cx="119.44" cy="302.3" r="1.85" fill="#333333"/>
<text x="57.7" y="429.0" font-size="10.35" fill="#000">p = 1.93e-05</text>
<rect x="51.3" y="259.9" width="79.5" height="175.5" fill="none" stroke="#6a6a6a" stroke-width="0.85"/>
<rect x="51.3" y="244.4" width="79.5" height="15.5" fill="#dcdcdc" stroke="#6a6a6a" stroke-width="0.85"/>
<text x="90.0" y="256.2" font-size="10.25" text-anchor="middle" fill="#000">28S_Am2774</text>
</g>
<g>
<rect x="135.2" y="259.9" width="79.5" height="175.5" fill="#fff"/>
<line x1="135.2" y1="287.8" x2="214.7" y2="287.8" stroke="#f8f8f8" stroke-width="0.45"/>
<line x1="135.2" y1="327.9" x2="214.7" y2="327.9" stroke="#f8f8f8" stroke-width="0.45"/>
<line x1="135.2" y1="367.9" x2="214.7" y2="367.9" stroke="#f8f8f8" stroke-width="0.45"/>
<line x1="135.2" y1="408.0" x2="214.7" y2="408.0" stroke="#f8f8f8" stroke-width="0.45"/>
<line x1="135.2" y1="267.8" x2="214.7" y2="267.8" stroke="#f0f0f0" stroke-width="0.65"/>
<line x1="135.2" y1="307.9" x2="214.7" y2="307.9" stroke="#f0f0f0" stroke-width="0.65"/>
<line x1="135.2" y1="347.9" x2="214.7" y2="347.9" stroke="#f0f0f0" stroke-width="0.65"/>
<line x1="135.2" y1="387.9" x2="214.7" y2="387.9" stroke="#f0f0f0" stroke-width="0.65"/>
<line x1="135.2" y1="428.0" x2="214.7" y2="428.0" stroke="#f0f0f0" stroke-width="0.65"/>
<line x1="146.6" y1="259.9" x2="146.6" y2="435.4" stroke="#f0f0f0" stroke-width="0.65"/>
<line x1="165.5" y1="259.9" x2="165.5" y2="435.4" stroke="#f0f0f0" stroke-width="0.65"/>
<line x1="184.4" y1="259.9" x2="184.4" y2="435.4" stroke="#f0f0f0" stroke-width="0.65"/>
<line x1="203.3" y1="259.9" x2="203.3" y2="435.4" stroke="#f0f0f0" stroke-width="0.65"/>
<line x1="146.56" y1="284.1" x2="146.56" y2="287.1" stroke="#333333" stroke-width="0.8"/>
<line x1="146.56" y1="297.8" x2="146.56" y2="299.6" stroke="#333333" stroke-width="0.8"/>
<rect x="139.41" y="287.1" width="14.30" height="10.7" fill="#9a9690" stroke="#333333" stroke-width="0.7"/>
<line x1="139.41" y1="292.2" x2="153.71" y2="292.2" stroke="#333333" stroke-width="1.8"/>
<line x1="165.49" y1="283.8" x2="165.49" y2="287.1" stroke="#333333" stroke-width="0.8"/>
<rect x="158.34" y="278.4" width="14.30" height="5.4" fill="#e7298a" stroke="#333333" stroke-width="0.7"/>
<line x1="158.34" y1="279.8" x2="172.64" y2="279.8" stroke="#333333" stroke-width="1.8"/>
<line x1="184.41" y1="274.2" x2="184.41" y2="276.2" stroke="#333333" stroke-width="0.8"/>
<line x1="184.41" y1="279.6" x2="184.41" y2="281.6" stroke="#333333" stroke-width="0.8"/>
<rect x="177.26" y="276.2" width="14.30" height="3.4" fill="#1b9e77" stroke="#333333" stroke-width="0.7"/>
<line x1="177.26" y1="277.8" x2="191.56" y2="277.8" stroke="#333333" stroke-width="1.8"/>
<line x1="203.34" y1="276.6" x2="203.34" y2="279.0" stroke="#333333" stroke-width="0.8"/>
<line x1="203.34" y1="284.6" x2="203.34" y2="290.1" stroke="#333333" stroke-width="0.8"/>
<rect x="196.19" y="279.0" width="14.30" height="5.6" fill="#7570b3" stroke="#333333" stroke-width="0.7"/>
<line x1="196.19" y1="282.3" x2="210.49" y2="282.3" stroke="#333333" stroke-width="1.8"/>
<text x="141.6" y="429.0" font-size="10.35" fill="#000">p = 5.92e-04</text>
<rect x="135.2" y="259.9" width="79.5" height="175.5" fill="none" stroke="#6a6a6a" stroke-width="0.85"/>
<rect x="135.2" y="244.4" width="79.5" height="15.5" fill="#dcdcdc" stroke="#6a6a6a" stroke-width="0.85"/>
<text x="173.9" y="256.2" font-size="10.25" text-anchor="middle" fill="#000">28S_Cm2848</text>
</g>
<g>
<rect x="219.1" y="259.9" width="79.5" height="175.5" fill="#fff"/>
<line x1="219.1" y1="287.8" x2="298.6" y2="287.8" stroke="#f8f8f8" stroke-width="0.45"/>
<line x1="219.1" y1="327.9" x2="298.6" y2="327.9" stroke="#f8f8f8" stroke-width="0.45"/>
<line x1="219.1" y1="367.9" x2="298.6" y2="367.9" stroke="#f8f8f8" stroke-width="0.45"/>
<line x1="219.1" y1="408.0" x2="298.6" y2="408.0" stroke="#f8f8f8" stroke-width="0.45"/>
<line x1="219.1" y1="267.8" x2="298.6" y2="267.8" stroke="#f0f0f0" stroke-width="0.65"/>
<line x1="219.1" y1="307.9" x2="298.6" y2="307.9" stroke="#f0f0f0" stroke-width="0.65"/>
<line x1="219.1" y1="347.9" x2="298.6" y2="347.9" stroke="#f0f0f0" stroke-width="0.65"/>
<line x1="219.1" y1="387.9" x2="298.6" y2="387.9" stroke="#f0f0f0" stroke-width="0.65"/>
<line x1="219.1" y1="428.0" x2="298.6" y2="428.0" stroke="#f0f0f0" stroke-width="0.65"/>
<line x1="230.5" y1="259.9" x2="230.5" y2="435.4" stroke="#f0f0f0" stroke-width="0.65"/>
<line x1="249.4" y1="259.9" x2="249.4" y2="435.4" stroke="#f0f0f0" stroke-width="0.65"/>
<line x1="268.3" y1="259.9" x2="268.3" y2="435.4" stroke="#f0f0f0" stroke-width="0.65"/>
<line x1="287.2" y1="259.9" x2="287.2" y2="435.4" stroke="#f0f0f0" stroke-width="0.65"/>
<line x1="230.46" y1="282.0" x2="230.46" y2="287.6" stroke="#333333" stroke-width="0.8"/>
<line x1="230.46" y1="292.5" x2="230.46" y2="293.4" stroke="#333333" stroke-width="0.8"/>
<rect x="223.31" y="287.6" width="14.30" height="4.9" fill="#9a9690" stroke="#333333" stroke-width="0.7"/>
<line x1="223.31" y1="291.0" x2="237.61" y2="291.0" stroke="#333333" stroke-width="1.8"/>
<rect x="242.24" y="286.8" width="14.30" height="1.8" fill="#e7298a" stroke="#333333" stroke-width="0.7"/>
<line x1="242.24" y1="287.7" x2="256.54" y2="287.7" stroke="#333333" stroke-width="1.8"/>
<circle cx="249.39" cy="283.2" r="1.85" fill="#333333"/>
<circle cx="249.39" cy="295.7" r="1.85" fill="#333333"/>
<circle cx="249.39" cy="297.9" r="1.85" fill="#333333"/>
<circle cx="249.39" cy="305.9" r="1.85" fill="#333333"/>
<line x1="268.31" y1="277.2" x2="268.31" y2="278.7" stroke="#333333" stroke-width="0.8"/>
<line x1="268.31" y1="282.6" x2="268.31" y2="283.5" stroke="#333333" stroke-width="0.8"/>
<rect x="261.16" y="278.7" width="14.30" height="3.9" fill="#1b9e77" stroke="#333333" stroke-width="0.7"/>
<line x1="261.16" y1="280.5" x2="275.46" y2="280.5" stroke="#333333" stroke-width="1.8"/>
<line x1="287.24" y1="278.1" x2="287.24" y2="280.2" stroke="#333333" stroke-width="0.8"/>
<line x1="287.24" y1="285.3" x2="287.24" y2="289.5" stroke="#333333" stroke-width="0.8"/>
<rect x="280.09" y="280.2" width="14.30" height="5.1" fill="#7570b3" stroke="#333333" stroke-width="0.7"/>
<line x1="280.09" y1="282.8" x2="294.39" y2="282.8" stroke="#333333" stroke-width="1.8"/>
<text x="225.5" y="429.0" font-size="10.35" fill="#000">p = 3.52e-04</text>
<rect x="219.1" y="259.9" width="79.5" height="175.5" fill="none" stroke="#6a6a6a" stroke-width="0.85"/>
<rect x="219.1" y="244.4" width="79.5" height="15.5" fill="#dcdcdc" stroke="#6a6a6a" stroke-width="0.85"/>
<text x="257.9" y="256.2" font-size="10.25" text-anchor="middle" fill="#000">28S_Gm2863</text>
</g>
<g>
<rect x="302.9" y="259.9" width="79.5" height="175.5" fill="#fff"/>
<line x1="302.9" y1="287.8" x2="382.4" y2="287.8" stroke="#f8f8f8" stroke-width="0.45"/>
<line x1="302.9" y1="327.9" x2="382.4" y2="327.9" stroke="#f8f8f8" stroke-width="0.45"/>
<line x1="302.9" y1="367.9" x2="382.4" y2="367.9" stroke="#f8f8f8" stroke-width="0.45"/>
<line x1="302.9" y1="408.0" x2="382.4" y2="408.0" stroke="#f8f8f8" stroke-width="0.45"/>
<line x1="302.9" y1="267.8" x2="382.4" y2="267.8" stroke="#f0f0f0" stroke-width="0.65"/>
<line x1="302.9" y1="307.9" x2="382.4" y2="307.9" stroke="#f0f0f0" stroke-width="0.65"/>
<line x1="302.9" y1="347.9" x2="382.4" y2="347.9" stroke="#f0f0f0" stroke-width="0.65"/>
<line x1="302.9" y1="387.9" x2="382.4" y2="387.9" stroke="#f0f0f0" stroke-width="0.65"/>
<line x1="302.9" y1="428.0" x2="382.4" y2="428.0" stroke="#f0f0f0" stroke-width="0.65"/>
<line x1="314.3" y1="259.9" x2="314.3" y2="435.4" stroke="#f0f0f0" stroke-width="0.65"/>
<line x1="333.2" y1="259.9" x2="333.2" y2="435.4" stroke="#f0f0f0" stroke-width="0.65"/>
<line x1="352.1" y1="259.9" x2="352.1" y2="435.4" stroke="#f0f0f0" stroke-width="0.65"/>
<line x1="371.0" y1="259.9" x2="371.0" y2="435.4" stroke="#f0f0f0" stroke-width="0.65"/>
<rect x="307.11" y="277.2" width="14.30" height="3.8" fill="#9a9690" stroke="#333333" stroke-width="0.7"/>
<line x1="307.11" y1="279.0" x2="321.41" y2="279.0" stroke="#333333" stroke-width="1.8"/>
<line x1="333.19" y1="276.9" x2="333.19" y2="281.4" stroke="#333333" stroke-width="0.8"/>
<line x1="333.19" y1="288.6" x2="333.19" y2="293.4" stroke="#333333" stroke-width="0.8"/>
<rect x="326.04" y="281.4" width="14.30" height="7.2" fill="#e7298a" stroke="#333333" stroke-width="0.7"/>
<line x1="326.04" y1="284.7" x2="340.34" y2="284.7" stroke="#333333" stroke-width="1.8"/>
<circle cx="333.19" cy="310.7" r="1.85" fill="#333333"/>
<rect x="344.96" y="276.3" width="14.30" height="1.8" fill="#1b9e77" stroke="#333333" stroke-width="0.7"/>
<line x1="344.96" y1="277.3" x2="359.26" y2="277.3" stroke="#333333" stroke-width="1.8"/>
<circle cx="352.11" cy="273.0" r="1.85" fill="#333333"/>
<circle cx="352.11" cy="290.1" r="1.85" fill="#333333"/>
<line x1="371.04" y1="281.1" x2="371.04" y2="286.4" stroke="#333333" stroke-width="0.8"/>
<line x1="371.04" y1="306.8" x2="371.04" y2="331.7" stroke="#333333" stroke-width="0.8"/>
<rect x="363.89" y="286.4" width="14.30" height="20.4" fill="#7570b3" stroke="#333333" stroke-width="0.7"/>
<line x1="363.89" y1="293.4" x2="378.19" y2="293.4" stroke="#333333" stroke-width="1.8"/>
<text x="309.3" y="429.0" font-size="10.35" fill="#000">p = 1.44e-04</text>
<rect x="302.9" y="259.9" width="79.5" height="175.5" fill="none" stroke="#6a6a6a" stroke-width="0.85"/>
<rect x="302.9" y="244.4" width="79.5" height="15.5" fill="#dcdcdc" stroke="#6a6a6a" stroke-width="0.85"/>
<text x="341.6" y="256.2" font-size="10.25" text-anchor="middle" fill="#000">28S_Gm4020</text>
</g>
<g>
<rect x="386.7" y="259.9" width="79.5" height="175.5" fill="#fff"/>
<line x1="386.7" y1="287.8" x2="466.2" y2="287.8" stroke="#f8f8f8" stroke-width="0.45"/>
<line x1="386.7" y1="327.9" x2="466.2" y2="327.9" stroke="#f8f8f8" stroke-width="0.45"/>
<line x1="386.7" y1="367.9" x2="466.2" y2="367.9" stroke="#f8f8f8" stroke-width="0.45"/>
<line x1="386.7" y1="408.0" x2="466.2" y2="408.0" stroke="#f8f8f8" stroke-width="0.45"/>
<line x1="386.7" y1="267.8" x2="466.2" y2="267.8" stroke="#f0f0f0" stroke-width="0.65"/>
<line x1="386.7" y1="307.9" x2="466.2" y2="307.9" stroke="#f0f0f0" stroke-width="0.65"/>
<line x1="386.7" y1="347.9" x2="466.2" y2="347.9" stroke="#f0f0f0" stroke-width="0.65"/>
<line x1="386.7" y1="387.9" x2="466.2" y2="387.9" stroke="#f0f0f0" stroke-width="0.65"/>
<line x1="386.7" y1="428.0" x2="466.2" y2="428.0" stroke="#f0f0f0" stroke-width="0.65"/>
<line x1="398.1" y1="259.9" x2="398.1" y2="435.4" stroke="#f0f0f0" stroke-width="0.65"/>
<line x1="417.0" y1="259.9" x2="417.0" y2="435.4" stroke="#f0f0f0" stroke-width="0.65"/>
<line x1="435.9" y1="259.9" x2="435.9" y2="435.4" stroke="#f0f0f0" stroke-width="0.65"/>
<line x1="454.8" y1="259.9" x2="454.8" y2="435.4" stroke="#f0f0f0" stroke-width="0.65"/>
<line x1="398.06" y1="276.6" x2="398.06" y2="278.4" stroke="#333333" stroke-width="0.8"/>
<line x1="398.06" y1="280.4" x2="398.06" y2="282.3" stroke="#333333" stroke-width="0.8"/>
<rect x="390.91" y="278.4" width="14.30" height="2.0" fill="#9a9690" stroke="#333333" stroke-width="0.7"/>
<line x1="390.91" y1="279.3" x2="405.21" y2="279.3" stroke="#333333" stroke-width="1.8"/>
<line x1="416.99" y1="276.9" x2="416.99" y2="280.4" stroke="#333333" stroke-width="0.8"/>
<line x1="416.99" y1="285.6" x2="416.99" y2="291.3" stroke="#333333" stroke-width="0.8"/>
<rect x="409.84" y="280.4" width="14.30" height="5.2" fill="#e7298a" stroke="#333333" stroke-width="0.7"/>
<line x1="409.84" y1="283.2" x2="424.14" y2="283.2" stroke="#333333" stroke-width="1.8"/>
<line x1="435.91" y1="276.3" x2="435.91" y2="278.4" stroke="#333333" stroke-width="0.8"/>
<line x1="435.91" y1="282.6" x2="435.91" y2="286.4" stroke="#333333" stroke-width="0.8"/>
<rect x="428.76" y="278.4" width="14.30" height="4.2" fill="#1b9e77" stroke="#333333" stroke-width="0.7"/>
<line x1="428.76" y1="280.2" x2="443.06" y2="280.2" stroke="#333333" stroke-width="1.8"/>
<circle cx="435.91" cy="288.3" r="1.85" fill="#333333"/>
<line x1="454.84" y1="282.3" x2="454.84" y2="290.1" stroke="#333333" stroke-width="0.8"/>
<line x1="454.84" y1="306.9" x2="454.84" y2="311.6" stroke="#333333" stroke-width="0.8"/>
<rect x="447.69" y="290.1" width="14.30" height="16.8" fill="#7570b3" stroke="#333333" stroke-width="0.7"/>
<line x1="447.69" y1="292.4" x2="461.99" y2="292.4" stroke="#333333" stroke-width="1.8"/>
<text x="393.1" y="429.0" font-size="10.35" fill="#000">p = 1.44e-04</text>
<rect x="386.7" y="259.9" width="79.5" height="175.5" fill="none" stroke="#6a6a6a" stroke-width="0.85"/>
<rect x="386.7" y="244.4" width="79.5" height="15.5" fill="#dcdcdc" stroke="#6a6a6a" stroke-width="0.85"/>
<text x="425.4" y="256.2" font-size="10.25" text-anchor="middle" fill="#000">28S_Am4560</text>
</g>
<g>
<rect x="470.4" y="259.9" width="79.5" height="175.5" fill="#fff"/>
<line x1="470.4" y1="287.8" x2="549.9" y2="287.8" stroke="#f8f8f8" stroke-width="0.45"/>
<line x1="470.4" y1="327.9" x2="549.9" y2="327.9" stroke="#f8f8f8" stroke-width="0.45"/>
<line x1="470.4" y1="367.9" x2="549.9" y2="367.9" stroke="#f8f8f8" stroke-width="0.45"/>
<line x1="470.4" y1="408.0" x2="549.9" y2="408.0" stroke="#f8f8f8" stroke-width="0.45"/>
<line x1="470.4" y1="267.8" x2="549.9" y2="267.8" stroke="#f0f0f0" stroke-width="0.65"/>
<line x1="470.4" y1="307.9" x2="549.9" y2="307.9" stroke="#f0f0f0" stroke-width="0.65"/>
<line x1="470.4" y1="347.9" x2="549.9" y2="347.9" stroke="#f0f0f0" stroke-width="0.65"/>
<line x1="470.4" y1="387.9" x2="549.9" y2="387.9" stroke="#f0f0f0" stroke-width="0.65"/>
<line x1="470.4" y1="428.0" x2="549.9" y2="428.0" stroke="#f0f0f0" stroke-width="0.65"/>
<line x1="481.8" y1="259.9" x2="481.8" y2="435.4" stroke="#f0f0f0" stroke-width="0.65"/>
<line x1="500.7" y1="259.9" x2="500.7" y2="435.4" stroke="#f0f0f0" stroke-width="0.65"/>
<line x1="519.6" y1="259.9" x2="519.6" y2="435.4" stroke="#f0f0f0" stroke-width="0.65"/>
<line x1="538.5" y1="259.9" x2="538.5" y2="435.4" stroke="#f0f0f0" stroke-width="0.65"/>
<line x1="481.76" y1="278.6" x2="481.76" y2="279.6" stroke="#333333" stroke-width="0.8"/>
<rect x="474.61" y="276.0" width="14.30" height="2.6" fill="#9a9690" stroke="#333333" stroke-width="0.7"/>
<line x1="474.61" y1="277.3" x2="488.91" y2="277.3" stroke="#333333" stroke-width="1.8"/>
<line x1="500.69" y1="277.2" x2="500.69" y2="283.5" stroke="#333333" stroke-width="0.8"/>
<line x1="500.69" y1="290.6" x2="500.69" y2="297.5" stroke="#333333" stroke-width="0.8"/>
<rect x="493.54" y="283.5" width="14.30" height="7.1" fill="#e7298a" stroke="#333333" stroke-width="0.7"/>
<line x1="493.54" y1="285.0" x2="507.84" y2="285.0" stroke="#333333" stroke-width="1.8"/>
<circle cx="500.69" cy="321.9" r="1.85" fill="#333333"/>
<line x1="519.61" y1="273.3" x2="519.61" y2="276.3" stroke="#333333" stroke-width="0.8"/>
<line x1="519.61" y1="279.6" x2="519.61" y2="280.5" stroke="#333333" stroke-width="0.8"/>
<rect x="512.46" y="276.3" width="14.30" height="3.3" fill="#1b9e77" stroke="#333333" stroke-width="0.7"/>
<line x1="512.46" y1="278.0" x2="526.76" y2="278.0" stroke="#333333" stroke-width="1.8"/>
<circle cx="519.61" cy="283.4" r="1.85" fill="#333333"/>
<circle cx="519.61" cy="285.6" r="1.85" fill="#333333"/>
<line x1="538.54" y1="275.4" x2="538.54" y2="276.3" stroke="#333333" stroke-width="0.8"/>
<rect x="531.39" y="276.3" width="14.30" height="1.5" fill="#7570b3" stroke="#333333" stroke-width="0.7"/>
<line x1="531.39" y1="277.1" x2="545.69" y2="277.1" stroke="#333333" stroke-width="1.8"/>
<circle cx="538.54" cy="280.5" r="1.85" fill="#333333"/>
<text x="476.8" y="429.0" font-size="10.35" fill="#000">p = 5.87e-04</text>
<rect x="470.4" y="259.9" width="79.5" height="175.5" fill="none" stroke="#6a6a6a" stroke-width="0.85"/>
<rect x="470.4" y="244.4" width="79.5" height="15.5" fill="#dcdcdc" stroke="#6a6a6a" stroke-width="0.85"/>
<text x="509.1" y="256.2" font-size="10.25" text-anchor="middle" fill="#000">28S_Gm4588</text>
</g>
<g>
<rect x="554.3" y="259.9" width="79.5" height="175.5" fill="#fff"/>
<line x1="554.3" y1="287.8" x2="633.8" y2="287.8" stroke="#f8f8f8" stroke-width="0.45"/>
<line x1="554.3" y1="327.9" x2="633.8" y2="327.9" stroke="#f8f8f8" stroke-width="0.45"/>
<line x1="554.3" y1="367.9" x2="633.8" y2="367.9" stroke="#f8f8f8" stroke-width="0.45"/>
<line x1="554.3" y1="408.0" x2="633.8" y2="408.0" stroke="#f8f8f8" stroke-width="0.45"/>
<line x1="554.3" y1="267.8" x2="633.8" y2="267.8" stroke="#f0f0f0" stroke-width="0.65"/>
<line x1="554.3" y1="307.9" x2="633.8" y2="307.9" stroke="#f0f0f0" stroke-width="0.65"/>
<line x1="554.3" y1="347.9" x2="633.8" y2="347.9" stroke="#f0f0f0" stroke-width="0.65"/>
<line x1="554.3" y1="387.9" x2="633.8" y2="387.9" stroke="#f0f0f0" stroke-width="0.65"/>
<line x1="554.3" y1="428.0" x2="633.8" y2="428.0" stroke="#f0f0f0" stroke-width="0.65"/>
<line x1="565.7" y1="259.9" x2="565.7" y2="435.4" stroke="#f0f0f0" stroke-width="0.65"/>
<line x1="584.6" y1="259.9" x2="584.6" y2="435.4" stroke="#f0f0f0" stroke-width="0.65"/>
<line x1="603.5" y1="259.9" x2="603.5" y2="435.4" stroke="#f0f0f0" stroke-width="0.65"/>
<line x1="622.4" y1="259.9" x2="622.4" y2="435.4" stroke="#f0f0f0" stroke-width="0.65"/>
<line x1="565.66" y1="319.1" x2="565.66" y2="324.2" stroke="#333333" stroke-width="0.8"/>
<rect x="558.51" y="324.2" width="14.30" height="4.1" fill="#9a9690" stroke="#333333" stroke-width="0.7"/>
<line x1="558.51" y1="327.3" x2="572.81" y2="327.3" stroke="#333333" stroke-width="1.8"/>
<circle cx="565.66" cy="335.9" r="1.85" fill="#333333"/>
<line x1="584.59" y1="284.1" x2="584.59" y2="291.0" stroke="#333333" stroke-width="0.8"/>
<line x1="584.59" y1="299.7" x2="584.59" y2="303.5" stroke="#333333" stroke-width="0.8"/>
<rect x="577.44" y="291.0" width="14.30" height="8.7" fill="#e7298a" stroke="#333333" stroke-width="0.7"/>
<line x1="577.44" y1="293.1" x2="591.74" y2="293.1" stroke="#333333" stroke-width="1.8"/>
<circle cx="584.59" cy="324.9" r="1.85" fill="#333333"/>
<line x1="603.51" y1="292.8" x2="603.51" y2="299.3" stroke="#333333" stroke-width="0.8"/>
<line x1="603.51" y1="317.6" x2="603.51" y2="337.7" stroke="#333333" stroke-width="0.8"/>
<rect x="596.36" y="299.3" width="14.30" height="18.3" fill="#1b9e77" stroke="#333333" stroke-width="0.7"/>
<line x1="596.36" y1="311.0" x2="610.66" y2="311.0" stroke="#333333" stroke-width="1.8"/>
<line x1="622.44" y1="288.2" x2="622.44" y2="298.4" stroke="#333333" stroke-width="0.8"/>
<line x1="622.44" y1="315.3" x2="622.44" y2="319.7" stroke="#333333" stroke-width="0.8"/>
<rect x="615.29" y="298.4" width="14.30" height="16.9" fill="#7570b3" stroke="#333333" stroke-width="0.7"/>
<line x1="615.29" y1="306.5" x2="629.59" y2="306.5" stroke="#333333" stroke-width="1.8"/>
<text x="560.7" y="429.0" font-size="10.35" fill="#000">p = 1.75e-03</text>
<rect x="554.3" y="259.9" width="79.5" height="175.5" fill="none" stroke="#6a6a6a" stroke-width="0.85"/>
<rect x="554.3" y="244.4" width="79.5" height="15.5" fill="#dcdcdc" stroke="#6a6a6a" stroke-width="0.85"/>
<text x="593.0" y="256.2" font-size="10.25" text-anchor="middle" fill="#000">28S_Gm4593</text>
</g>
<g>
<rect x="638.2" y="259.9" width="79.5" height="175.5" fill="#fff"/>
<line x1="638.2" y1="287.8" x2="717.7" y2="287.8" stroke="#f8f8f8" stroke-width="0.45"/>
<line x1="638.2" y1="327.9" x2="717.7" y2="327.9" stroke="#f8f8f8" stroke-width="0.45"/>
<line x1="638.2" y1="367.9" x2="717.7" y2="367.9" stroke="#f8f8f8" stroke-width="0.45"/>
<line x1="638.2" y1="408.0" x2="717.7" y2="408.0" stroke="#f8f8f8" stroke-width="0.45"/>
<line x1="638.2" y1="267.8" x2="717.7" y2="267.8" stroke="#f0f0f0" stroke-width="0.65"/>
<line x1="638.2" y1="307.9" x2="717.7" y2="307.9" stroke="#f0f0f0" stroke-width="0.65"/>
<line x1="638.2" y1="347.9" x2="717.7" y2="347.9" stroke="#f0f0f0" stroke-width="0.65"/>
<line x1="638.2" y1="387.9" x2="717.7" y2="387.9" stroke="#f0f0f0" stroke-width="0.65"/>
<line x1="638.2" y1="428.0" x2="717.7" y2="428.0" stroke="#f0f0f0" stroke-width="0.65"/>
<line x1="649.6" y1="259.9" x2="649.6" y2="435.4" stroke="#f0f0f0" stroke-width="0.65"/>
<line x1="668.5" y1="259.9" x2="668.5" y2="435.4" stroke="#f0f0f0" stroke-width="0.65"/>
<line x1="687.4" y1="259.9" x2="687.4" y2="435.4" stroke="#f0f0f0" stroke-width="0.65"/>
<line x1="706.3" y1="259.9" x2="706.3" y2="435.4" stroke="#f0f0f0" stroke-width="0.65"/>
<line x1="649.56" y1="280.2" x2="649.56" y2="282.6" stroke="#333333" stroke-width="0.8"/>
<line x1="649.56" y1="289.5" x2="649.56" y2="290.4" stroke="#333333" stroke-width="0.8"/>
<rect x="642.41" y="282.6" width="14.30" height="6.9" fill="#9a9690" stroke="#333333" stroke-width="0.7"/>
<line x1="642.41" y1="284.7" x2="656.71" y2="284.7" stroke="#333333" stroke-width="1.8"/>
<line x1="668.49" y1="289.2" x2="668.49" y2="302.3" stroke="#333333" stroke-width="0.8"/>
<line x1="668.49" y1="314.3" x2="668.49" y2="332.7" stroke="#333333" stroke-width="0.8"/>
<rect x="661.34" y="302.3" width="14.30" height="12.0" fill="#e7298a" stroke="#333333" stroke-width="0.7"/>
<line x1="661.34" y1="308.3" x2="675.64" y2="308.3" stroke="#333333" stroke-width="1.8"/>
<line x1="687.41" y1="283.4" x2="687.41" y2="286.5" stroke="#333333" stroke-width="0.8"/>
<line x1="687.41" y1="293.6" x2="687.41" y2="298.4" stroke="#333333" stroke-width="0.8"/>
<rect x="680.26" y="286.5" width="14.30" height="7.1" fill="#1b9e77" stroke="#333333" stroke-width="0.7"/>
<line x1="680.26" y1="291.3" x2="694.56" y2="291.3" stroke="#333333" stroke-width="1.8"/>
<circle cx="687.41" cy="306.5" r="1.85" fill="#333333"/>
<circle cx="687.41" cy="309.2" r="1.85" fill="#333333"/>
<line x1="706.34" y1="280.2" x2="706.34" y2="286.4" stroke="#333333" stroke-width="0.8"/>
<line x1="706.34" y1="291.6" x2="706.34" y2="297.3" stroke="#333333" stroke-width="0.8"/>
<rect x="699.19" y="286.4" width="14.30" height="5.2" fill="#7570b3" stroke="#333333" stroke-width="0.7"/>
<line x1="699.19" y1="288.9" x2="713.49" y2="288.9" stroke="#333333" stroke-width="1.8"/>
<circle cx="706.34" cy="305.3" r="1.85" fill="#333333"/>
<text x="644.6" y="429.0" font-size="10.35" fill="#000">p = 3.52e-04</text>
<rect x="638.2" y="259.9" width="79.5" height="175.5" fill="none" stroke="#6a6a6a" stroke-width="0.85"/>
<rect x="638.2" y="244.4" width="79.5" height="15.5" fill="#dcdcdc" stroke="#6a6a6a" stroke-width="0.85"/>
<text x="677.0" y="256.2" font-size="10.25" text-anchor="middle" fill="#000">28S_Gm4607</text>
</g>
<text x="303.6" y="474.9" font-size="10.4" fill="#000">C-score mean difference</text>
<rect x="422" y="466.2" width="11.1" height="10.9" fill="#e41a1c"/>
<text x="435.4" y="474.9" font-size="9.75" fill="#000">DOWN</text>
<rect x="469.2" y="466.2" width="11.3" height="10.9" fill="#2a77b8"/>
<text x="484.6" y="474.9" font-size="9.75" fill="#000">UP</text>
<rect x="151.4" y="488.7" width="542.2" height="328.0" fill="#fff"/>
<line x1="151.4" y1="501.1" x2="693.6" y2="501.1" stroke="#f0f0f0" stroke-width="0.6"/>
<line x1="151.4" y1="521.3" x2="693.6" y2="521.3" stroke="#f0f0f0" stroke-width="0.6"/>
<line x1="151.4" y1="541.5" x2="693.6" y2="541.5" stroke="#f0f0f0" stroke-width="0.6"/>
<line x1="151.4" y1="561.8" x2="693.6" y2="561.8" stroke="#f0f0f0" stroke-width="0.6"/>
<line x1="151.4" y1="582.0" x2="693.6" y2="582.0" stroke="#f0f0f0" stroke-width="0.6"/>
<line x1="151.4" y1="602.3" x2="693.6" y2="602.3" stroke="#f0f0f0" stroke-width="0.6"/>
<line x1="151.4" y1="622.5" x2="693.6" y2="622.5" stroke="#f0f0f0" stroke-width="0.6"/>
<line x1="151.4" y1="642.8" x2="693.6" y2="642.8" stroke="#f0f0f0" stroke-width="0.6"/>
<line x1="151.4" y1="663.0" x2="693.6" y2="663.0" stroke="#f0f0f0" stroke-width="0.6"/>
<line x1="151.4" y1="683.2" x2="693.6" y2="683.2" stroke="#f0f0f0" stroke-width="0.6"/>
<line x1="151.4" y1="703.5" x2="693.6" y2="703.5" stroke="#f0f0f0" stroke-width="0.6"/>
<line x1="151.4" y1="723.7" x2="693.6" y2="723.7" stroke="#f0f0f0" stroke-width="0.6"/>
<line x1="151.4" y1="743.9" x2="693.6" y2="743.9" stroke="#f0f0f0" stroke-width="0.6"/>
<line x1="151.4" y1="764.2" x2="693.6" y2="764.2" stroke="#f0f0f0" stroke-width="0.6"/>
<line x1="151.4" y1="784.4" x2="693.6" y2="784.4" stroke="#f0f0f0" stroke-width="0.6"/>
<line x1="151.4" y1="804.7" x2="693.6" y2="804.7" stroke="#f0f0f0" stroke-width="0.6"/>
<line x1="204.0" y1="488.7" x2="204.0" y2="816.7" stroke="#f0f0f0" stroke-width="0.6"/>
<line x1="291.5" y1="488.7" x2="291.5" y2="816.7" stroke="#f0f0f0" stroke-width="0.6"/>
<line x1="378.9" y1="488.7" x2="378.9" y2="816.7" stroke="#f0f0f0" stroke-width="0.6"/>
<line x1="466.4" y1="488.7" x2="466.4" y2="816.7" stroke="#f0f0f0" stroke-width="0.6"/>
<line x1="553.8" y1="488.7" x2="553.8" y2="816.7" stroke="#f0f0f0" stroke-width="0.6"/>
<line x1="641.3" y1="488.7" x2="641.3" y2="816.7" stroke="#f0f0f0" stroke-width="0.6"/>
<rect x="160.3" y="490.95" width="87.45" height="20.24" fill="#fff"/>
<rect x="247.8" y="490.95" width="87.45" height="20.24" fill="#fff"/>
<rect x="335.2" y="490.95" width="87.45" height="20.24" fill="#2a77b8"/>
<rect x="422.7" y="490.95" width="87.45" height="20.24" fill="#fff"/>
<rect x="510.1" y="490.95" width="87.45" height="20.24" fill="#2a77b8"/>
<rect x="597.5" y="490.95" width="87.45" height="20.24" fill="#e41a1c"/>
<rect x="160.3" y="511.19" width="87.45" height="20.24" fill="#fff"/>
<rect x="247.8" y="511.19" width="87.45" height="20.24" fill="#e41a1c"/>
<rect x="335.2" y="511.19" width="87.45" height="20.24" fill="#fff"/>
<rect x="422.7" y="511.19" width="87.45" height="20.24" fill="#fff"/>
<rect x="510.1" y="511.19" width="87.45" height="20.24" fill="#2a77b8"/>
<rect x="597.5" y="511.19" width="87.45" height="20.24" fill="#e41a1c"/>
<rect x="160.3" y="531.43" width="87.45" height="20.24" fill="#2a77b8"/>
<rect x="247.8" y="531.43" width="87.45" height="20.24" fill="#fff"/>
<rect x="335.2" y="531.43" width="87.45" height="20.24" fill="#fff"/>
<rect x="422.7" y="531.43" width="87.45" height="20.24" fill="#2a77b8"/>
<rect x="510.1" y="531.43" width="87.45" height="20.24" fill="#2a77b8"/>
<rect x="597.5" y="531.43" width="87.45" height="20.24" fill="#2a77b8"/>
<rect x="160.3" y="551.67" width="87.45" height="20.24" fill="#e41a1c"/>
<rect x="247.8" y="551.67" width="87.45" height="20.24" fill="#e41a1c"/>
<rect x="335.2" y="551.67" width="87.45" height="20.24" fill="#e41a1c"/>
<rect x="422.7" y="551.67" width="87.45" height="20.24" fill="#fff"/>
<rect x="510.1" y="551.67" width="87.45" height="20.24" fill="#fff"/>
<rect x="597.5" y="551.67" width="87.45" height="20.24" fill="#fff"/>
<rect x="160.3" y="571.91" width="87.45" height="20.24" fill="#2a77b8"/>
<rect x="247.8" y="571.91" width="87.45" height="20.24" fill="#2a77b8"/>
<rect x="335.2" y="571.91" width="87.45" height="20.24" fill="#fff"/>
<rect x="422.7" y="571.91" width="87.45" height="20.24" fill="#fff"/>
<rect x="510.1" y="571.91" width="87.45" height="20.24" fill="#fff"/>
<rect x="597.5" y="571.91" width="87.45" height="20.24" fill="#2a77b8"/>
<rect x="160.3" y="592.15" width="87.45" height="20.24" fill="#e41a1c"/>
<rect x="247.8" y="592.15" width="87.45" height="20.24" fill="#e41a1c"/>
<rect x="335.2" y="592.15" width="87.45" height="20.24" fill="#e41a1c"/>
<rect x="422.7" y="592.15" width="87.45" height="20.24" fill="#fff"/>
<rect x="510.1" y="592.15" width="87.45" height="20.24" fill="#fff"/>
<rect x="597.5" y="592.15" width="87.45" height="20.24" fill="#fff"/>
<rect x="160.3" y="612.39" width="87.45" height="20.24" fill="#fff"/>
<rect x="247.8" y="612.39" width="87.45" height="20.24" fill="#e41a1c"/>
<rect x="335.2" y="612.39" width="87.45" height="20.24" fill="#e41a1c"/>
<rect x="422.7" y="612.39" width="87.45" height="20.24" fill="#2a77b8"/>
<rect x="510.1" y="612.39" width="87.45" height="20.24" fill="#fff"/>
<rect x="597.5" y="612.39" width="87.45" height="20.24" fill="#fff"/>
<rect x="160.3" y="632.63" width="87.45" height="20.24" fill="#e41a1c"/>
<rect x="247.8" y="632.63" width="87.45" height="20.24" fill="#e41a1c"/>
<rect x="335.2" y="632.63" width="87.45" height="20.24" fill="#e41a1c"/>
<rect x="422.7" y="632.63" width="87.45" height="20.24" fill="#fff"/>
<rect x="510.1" y="632.63" width="87.45" height="20.24" fill="#fff"/>
<rect x="597.5" y="632.63" width="87.45" height="20.24" fill="#fff"/>
<rect x="160.3" y="652.87" width="87.45" height="20.24" fill="#e41a1c"/>
<rect x="247.8" y="652.87" width="87.45" height="20.24" fill="#e41a1c"/>
<rect x="335.2" y="652.87" width="87.45" height="20.24" fill="#e41a1c"/>
<rect x="422.7" y="652.87" width="87.45" height="20.24" fill="#fff"/>
<rect x="510.1" y="652.87" width="87.45" height="20.24" fill="#fff"/>
<rect x="597.5" y="652.87" width="87.45" height="20.24" fill="#fff"/>
<rect x="160.3" y="673.11" width="87.45" height="20.24" fill="#e41a1c"/>
<rect x="247.8" y="673.11" width="87.45" height="20.24" fill="#e41a1c"/>
<rect x="335.2" y="673.11" width="87.45" height="20.24" fill="#e41a1c"/>
<rect x="422.7" y="673.11" width="87.45" height="20.24" fill="#fff"/>
<rect x="510.1" y="673.11" width="87.45" height="20.24" fill="#fff"/>
<rect x="597.5" y="673.11" width="87.45" height="20.24" fill="#fff"/>
<rect x="160.3" y="693.35" width="87.45" height="20.24" fill="#2a77b8"/>
<rect x="247.8" y="693.35" width="87.45" height="20.24" fill="#fff"/>
<rect x="335.2" y="693.35" width="87.45" height="20.24" fill="#fff"/>
<rect x="422.7" y="693.35" width="87.45" height="20.24" fill="#2a77b8"/>
<rect x="510.1" y="693.35" width="87.45" height="20.24" fill="#fff"/>
<rect x="597.5" y="693.35" width="87.45" height="20.24" fill="#2a77b8"/>
<rect x="160.3" y="713.59" width="87.45" height="20.24" fill="#e41a1c"/>
<rect x="247.8" y="713.59" width="87.45" height="20.24" fill="#e41a1c"/>
<rect x="335.2" y="713.59" width="87.45" height="20.24" fill="#e41a1c"/>
<rect x="422.7" y="713.59" width="87.45" height="20.24" fill="#fff"/>
<rect x="510.1" y="713.59" width="87.45" height="20.24" fill="#fff"/>
<rect x="597.5" y="713.59" width="87.45" height="20.24" fill="#fff"/>
<rect x="160.3" y="733.83" width="87.45" height="20.24" fill="#2a77b8"/>
<rect x="247.8" y="733.83" width="87.45" height="20.24" fill="#2a77b8"/>
<rect x="335.2" y="733.83" width="87.45" height="20.24" fill="#2a77b8"/>
<rect x="422.7" y="733.83" width="87.45" height="20.24" fill="#fff"/>
<rect x="510.1" y="733.83" width="87.45" height="20.24" fill="#fff"/>
<rect x="597.5" y="733.83" width="87.45" height="20.24" fill="#fff"/>
<rect x="160.3" y="754.07" width="87.45" height="20.24" fill="#e41a1c"/>
<rect x="247.8" y="754.07" width="87.45" height="20.24" fill="#e41a1c"/>
<rect x="335.2" y="754.07" width="87.45" height="20.24" fill="#e41a1c"/>
<rect x="422.7" y="754.07" width="87.45" height="20.24" fill="#fff"/>
<rect x="510.1" y="754.07" width="87.45" height="20.24" fill="#2a77b8"/>
<rect x="597.5" y="754.07" width="87.45" height="20.24" fill="#e41a1c"/>
<rect x="160.3" y="774.31" width="87.45" height="20.24" fill="#e41a1c"/>
<rect x="247.8" y="774.31" width="87.45" height="20.24" fill="#e41a1c"/>
<rect x="335.2" y="774.31" width="87.45" height="20.24" fill="#e41a1c"/>
<rect x="422.7" y="774.31" width="87.45" height="20.24" fill="#fff"/>
<rect x="510.1" y="774.31" width="87.45" height="20.24" fill="#2a77b8"/>
<rect x="597.5" y="774.31" width="87.45" height="20.24" fill="#fff"/>
<rect x="160.3" y="794.55" width="87.45" height="20.24" fill="#fff"/>
<rect x="247.8" y="794.55" width="87.45" height="20.24" fill="#e41a1c"/>
<rect x="335.2" y="794.55" width="87.45" height="20.24" fill="#2a77b8"/>
<rect x="422.7" y="794.55" width="87.45" height="20.24" fill="#2a77b8"/>
<rect x="510.1" y="794.55" width="87.45" height="20.24" fill="#2a77b8"/>
<rect x="597.5" y="794.55" width="87.45" height="20.24" fill="#fff"/>
<text x="204.0" class="b" y="504.1" font-size="9.0" text-anchor="middle" fill="#000">ns</text>
<text x="291.5" class="b" y="504.1" font-size="9.0" text-anchor="middle" fill="#000">ns</text>
<text class="s" x="378.9" y="502.8" font-size="8.4" text-anchor="middle" fill="#111">**</text>
<text x="466.4" class="b" y="504.1" font-size="9.0" text-anchor="middle" fill="#000">ns</text>
<text class="s" x="553.8" y="502.8" font-size="8.4" text-anchor="middle" fill="#111">***</text>
<text class="s" x="641.3" y="502.8" font-size="8.4" text-anchor="middle" fill="#111">**</text>
<text x="204.0" class="b" y="524.3" font-size="9.0" text-anchor="middle" fill="#000">ns</text>
<text class="s" x="291.5" y="523.0" font-size="8.4" text-anchor="middle" fill="#111">**</text>
<text x="378.9" class="b" y="524.3" font-size="9.0" text-anchor="middle" fill="#000">ns</text>
<text x="466.4" class="b" y="524.3" font-size="9.0" text-anchor="middle" fill="#000">ns</text>
<text class="s" x="553.8" y="523.0" font-size="8.4" text-anchor="middle" fill="#111">***</text>
<text class="s" x="641.3" y="523.0" font-size="8.4" text-anchor="middle" fill="#111">**</text>
<text class="s" x="204.0" y="543.2" font-size="8.4" text-anchor="middle" fill="#111">**</text>
<text x="291.5" class="b" y="544.5" font-size="9.0" text-anchor="middle" fill="#000">ns</text>
<text x="378.9" class="b" y="544.5" font-size="9.0" text-anchor="middle" fill="#000">ns</text>
<text class="s" x="466.4" y="543.2" font-size="8.4" text-anchor="middle" fill="#111">**</text>
<text class="s" x="553.8" y="543.2" font-size="8.4" text-anchor="middle" fill="#111">**</text>
<text class="s" x="641.3" y="543.2" font-size="8.4" text-anchor="middle" fill="#111">*</text>
<text class="s" x="204.0" y="563.5" font-size="8.4" text-anchor="middle" fill="#111">**</text>
<text class="s" x="291.5" y="563.5" font-size="8.4" text-anchor="middle" fill="#111">**</text>
<text class="s" x="378.9" y="563.5" font-size="8.4" text-anchor="middle" fill="#111">***</text>
<text x="466.4" class="b" y="564.8" font-size="9.0" text-anchor="middle" fill="#000">ns</text>
<text x="553.8" class="b" y="564.8" font-size="9.0" text-anchor="middle" fill="#000">ns</text>
<text x="641.3" class="b" y="564.8" font-size="9.0" text-anchor="middle" fill="#000">ns</text>
<text class="s" x="204.0" y="583.7" font-size="8.4" text-anchor="middle" fill="#111">**</text>
<text class="s" x="291.5" y="583.7" font-size="8.4" text-anchor="middle" fill="#111">*</text>
<text x="378.9" class="b" y="585.0" font-size="9.0" text-anchor="middle" fill="#000">ns</text>
<text x="466.4" class="b" y="585.0" font-size="9.0" text-anchor="middle" fill="#000">ns</text>
<text x="553.8" class="b" y="585.0" font-size="9.0" text-anchor="middle" fill="#000">ns</text>
<text class="s" x="641.3" y="583.7" font-size="8.4" text-anchor="middle" fill="#111">**</text>
<text class="s" x="204.0" y="604.0" font-size="8.4" text-anchor="middle" fill="#111">**</text>
<text class="s" x="291.5" y="604.0" font-size="8.4" text-anchor="middle" fill="#111">**</text>
<text class="s" x="378.9" y="604.0" font-size="8.4" text-anchor="middle" fill="#111">***</text>
<text x="466.4" class="b" y="605.3" font-size="9.0" text-anchor="middle" fill="#000">ns</text>
<text x="553.8" class="b" y="605.3" font-size="9.0" text-anchor="middle" fill="#000">ns</text>
<text x="641.3" class="b" y="605.3" font-size="9.0" text-anchor="middle" fill="#000">ns</text>
<text x="204.0" class="b" y="625.5" font-size="9.0" text-anchor="middle" fill="#000">ns</text>
<text class="s" x="291.5" y="624.2" font-size="8.4" text-anchor="middle" fill="#111">***</text>
<text class="s" x="378.9" y="624.2" font-size="8.4" text-anchor="middle" fill="#111">*</text>
<text class="s" x="466.4" y="624.2" font-size="8.4" text-anchor="middle" fill="#111">**</text>
<text x="553.8" class="b" y="625.5" font-size="9.0" text-anchor="middle" fill="#000">ns</text>
<text x="641.3" class="b" y="625.5" font-size="9.0" text-anchor="middle" fill="#000">ns</text>
<text class="s" x="204.0" y="644.5" font-size="8.4" text-anchor="middle" fill="#111">**</text>
<text class="s" x="291.5" y="644.5" font-size="8.4" text-anchor="middle" fill="#111">**</text>
<text class="s" x="378.9" y="644.5" font-size="8.4" text-anchor="middle" fill="#111">***</text>
<text x="466.4" class="b" y="645.8" font-size="9.0" text-anchor="middle" fill="#000">ns</text>
<text x="553.8" class="b" y="645.8" font-size="9.0" text-anchor="middle" fill="#000">ns</text>
<text x="641.3" class="b" y="645.8" font-size="9.0" text-anchor="middle" fill="#000">ns</text>
<text class="s" x="204.0" y="664.7" font-size="8.4" text-anchor="middle" fill="#111">*</text>
<text class="s" x="291.5" y="664.7" font-size="8.4" text-anchor="middle" fill="#111">***</text>
<text class="s" x="378.9" y="664.7" font-size="8.4" text-anchor="middle" fill="#111">***</text>
<text x="466.4" class="b" y="666.0" font-size="9.0" text-anchor="middle" fill="#000">ns</text>
<text x="553.8" class="b" y="666.0" font-size="9.0" text-anchor="middle" fill="#000">ns</text>
<text x="641.3" class="b" y="666.0" font-size="9.0" text-anchor="middle" fill="#000">ns</text>
<text class="s" x="204.0" y="684.9" font-size="8.4" text-anchor="middle" fill="#111">**</text>
<text class="s" x="291.5" y="684.9" font-size="8.4" text-anchor="middle" fill="#111">***</text>
<text class="s" x="378.9" y="684.9" font-size="8.4" text-anchor="middle" fill="#111">***</text>
<text x="466.4" class="b" y="686.2" font-size="9.0" text-anchor="middle" fill="#000">ns</text>
<text x="553.8" class="b" y="686.2" font-size="9.0" text-anchor="middle" fill="#000">ns</text>
<text x="641.3" class="b" y="686.2" font-size="9.0" text-anchor="middle" fill="#000">ns</text>
<text class="s" x="204.0" y="705.2" font-size="8.4" text-anchor="middle" fill="#111">**</text>
<text x="291.5" class="b" y="706.5" font-size="9.0" text-anchor="middle" fill="#000">ns</text>
<text x="378.9" class="b" y="706.5" font-size="9.0" text-anchor="middle" fill="#000">ns</text>
<text class="s" x="466.4" y="705.2" font-size="8.4" text-anchor="middle" fill="#111">**</text>
<text x="553.8" class="b" y="706.5" font-size="9.0" text-anchor="middle" fill="#000">ns</text>
<text class="s" x="641.3" y="705.2" font-size="8.4" text-anchor="middle" fill="#111">**</text>
<text class="s" x="204.0" y="725.4" font-size="8.4" text-anchor="middle" fill="#111">**</text>
<text class="s" x="291.5" y="725.4" font-size="8.4" text-anchor="middle" fill="#111">***</text>
<text class="s" x="378.9" y="725.4" font-size="8.4" text-anchor="middle" fill="#111">**</text>
<text x="466.4" class="b" y="726.7" font-size="9.0" text-anchor="middle" fill="#000">ns</text>
<text x="553.8" class="b" y="726.7" font-size="9.0" text-anchor="middle" fill="#000">ns</text>
<text x="641.3" class="b" y="726.7" font-size="9.0" text-anchor="middle" fill="#000">ns</text>
<text class="s" x="204.0" y="745.6" font-size="8.4" text-anchor="middle" fill="#111">**</text>
<text class="s" x="291.5" y="745.6" font-size="8.4" text-anchor="middle" fill="#111">**</text>
<text class="s" x="378.9" y="745.6" font-size="8.4" text-anchor="middle" fill="#111">****</text>
<text x="466.4" class="b" y="746.9" font-size="9.0" text-anchor="middle" fill="#000">ns</text>
<text x="553.8" class="b" y="746.9" font-size="9.0" text-anchor="middle" fill="#000">ns</text>
<text x="641.3" class="b" y="746.9" font-size="9.0" text-anchor="middle" fill="#000">ns</text>
<text class="s" x="204.0" y="765.9" font-size="8.4" text-anchor="middle" fill="#111">**</text>
<text class="s" x="291.5" y="765.9" font-size="8.4" text-anchor="middle" fill="#111">****</text>
<text class="s" x="378.9" y="765.9" font-size="8.4" text-anchor="middle" fill="#111">***</text>
<text x="466.4" class="b" y="767.2" font-size="9.0" text-anchor="middle" fill="#000">ns</text>
<text class="s" x="553.8" y="765.9" font-size="8.4" text-anchor="middle" fill="#111">**</text>
<text class="s" x="641.3" y="765.9" font-size="8.4" text-anchor="middle" fill="#111">**</text>
<text class="s" x="204.0" y="786.1" font-size="8.4" text-anchor="middle" fill="#111">**</text>
<text class="s" x="291.5" y="786.1" font-size="8.4" text-anchor="middle" fill="#111">***</text>
<text class="s" x="378.9" y="786.1" font-size="8.4" text-anchor="middle" fill="#111">**</text>
<text x="466.4" class="b" y="787.4" font-size="9.0" text-anchor="middle" fill="#000">ns</text>
<text class="s" x="553.8" y="786.1" font-size="8.4" text-anchor="middle" fill="#111">*</text>
<text x="641.3" class="b" y="787.4" font-size="9.0" text-anchor="middle" fill="#000">ns</text>
<text x="204.0" class="b" y="807.7" font-size="9.0" text-anchor="middle" fill="#000">ns</text>
<text class="s" x="291.5" y="806.4" font-size="8.4" text-anchor="middle" fill="#111">**</text>
<text class="s" x="378.9" y="806.4" font-size="8.4" text-anchor="middle" fill="#111">*</text>
<text class="s" x="466.4" y="806.4" font-size="8.4" text-anchor="middle" fill="#111">**</text>
<text class="s" x="553.8" y="806.4" font-size="8.4" text-anchor="middle" fill="#111">****</text>
<text x="641.3" class="b" y="807.7" font-size="9.0" text-anchor="middle" fill="#000">ns</text>
<rect x="151.4" y="488.7" width="542.2" height="328.0" fill="none" stroke="#8a8a8a" stroke-width="1"/>
<text x="148.0" y="503.9" class="b" font-size="8.6" text-anchor="end" fill="#000">28S_Am4560</text>
<line x1="149.6" y1="501.1" x2="151.4" y2="501.1" stroke="#555" stroke-width="0.6"/>
<text x="148.0" y="524.1" class="b" font-size="8.6" text-anchor="end" fill="#000">28S_Gm4020</text>
<line x1="149.6" y1="521.3" x2="151.4" y2="521.3" stroke="#555" stroke-width="0.6"/>
<text x="148.0" y="544.3" class="b" font-size="8.6" text-anchor="end" fill="#000">28S_Cm2848</text>
<line x1="149.6" y1="541.5" x2="151.4" y2="541.5" stroke="#555" stroke-width="0.6"/>
<text x="148.0" y="564.6" class="b" font-size="8.6" text-anchor="end" fill="#000">28S_Gm4607</text>
<line x1="149.6" y1="561.8" x2="151.4" y2="561.8" stroke="#555" stroke-width="0.6"/>
<text x="148.0" y="584.8" class="b" font-size="8.6" text-anchor="end" fill="#000">28S_Gm4593</text>
<line x1="149.6" y1="582.0" x2="151.4" y2="582.0" stroke="#555" stroke-width="0.6"/>
<text x="148.0" y="605.1" class="b" font-size="8.6" text-anchor="end" fill="#000">28S_Gm4588</text>
<line x1="149.6" y1="602.3" x2="151.4" y2="602.3" stroke="#555" stroke-width="0.6"/>
<text x="148.0" y="625.3" class="b" font-size="8.6" text-anchor="end" fill="#000">28S_Gm2863</text>
<line x1="149.6" y1="622.5" x2="151.4" y2="622.5" stroke="#555" stroke-width="0.6"/>
<text x="148.0" y="645.5" class="b" font-size="8.6" text-anchor="end" fill="#000">28S_Cm1868</text>
<line x1="149.6" y1="642.8" x2="151.4" y2="642.8" stroke="#555" stroke-width="0.6"/>
<text x="148.0" y="665.8" class="b" font-size="8.6" text-anchor="end" fill="#000">28S_Cm1327</text>
<line x1="149.6" y1="663.0" x2="151.4" y2="663.0" stroke="#555" stroke-width="0.6"/>
<text x="148.0" y="686.0" class="b" font-size="8.6" text-anchor="end" fill="#000">18S_Gm1447</text>
<line x1="149.6" y1="683.2" x2="151.4" y2="683.2" stroke="#555" stroke-width="0.6"/>
<text x="148.0" y="706.3" class="b" font-size="8.6" text-anchor="end" fill="#000">18S_Cm1391</text>
<line x1="149.6" y1="703.5" x2="151.4" y2="703.5" stroke="#555" stroke-width="0.6"/>
<text x="148.0" y="726.5" class="b" font-size="8.6" text-anchor="end" fill="#000">18S_Cm1272</text>
<line x1="149.6" y1="723.7" x2="151.4" y2="723.7" stroke="#555" stroke-width="0.6"/>
<text x="148.0" y="746.7" class="b" font-size="8.6" text-anchor="end" fill="#000">18S_Am576</text>
<line x1="149.6" y1="743.9" x2="151.4" y2="743.9" stroke="#555" stroke-width="0.6"/>
<text x="148.0" y="767.0" class="b" font-size="8.6" text-anchor="end" fill="#000">28S_Am2774</text>
<line x1="149.6" y1="764.2" x2="151.4" y2="764.2" stroke="#555" stroke-width="0.6"/>
<text x="148.0" y="787.2" class="b" font-size="8.6" text-anchor="end" fill="#000">28S_Gm1303</text>
<line x1="149.6" y1="784.4" x2="151.4" y2="784.4" stroke="#555" stroke-width="0.6"/>
<text x="148.0" y="807.5" class="b" font-size="8.6" text-anchor="end" fill="#000">18S_Cm174</text>
<line x1="149.6" y1="804.7" x2="151.4" y2="804.7" stroke="#555" stroke-width="0.6"/>
<text x="204.0" y="827.7" font-size="9.0" text-anchor="middle" fill="#000">G vs NT</text>
<line x1="204.0" y1="816.7" x2="204.0" y2="818.9" stroke="#555" stroke-width="0.6"/>
<text x="291.5" y="827.7" font-size="9.0" text-anchor="middle" fill="#000">G vs A</text>
<line x1="291.5" y1="816.7" x2="291.5" y2="818.9" stroke="#555" stroke-width="0.6"/>
<text x="378.9" y="827.7" font-size="9.0" text-anchor="middle" fill="#000">G vs O</text>
<line x1="378.9" y1="816.7" x2="378.9" y2="818.9" stroke="#555" stroke-width="0.6"/>
<text x="466.4" y="827.7" font-size="9.0" text-anchor="middle" fill="#000">A vs NT</text>
<line x1="466.4" y1="816.7" x2="466.4" y2="818.9" stroke="#555" stroke-width="0.6"/>
<text x="553.8" y="827.7" font-size="9.0" text-anchor="middle" fill="#000">A vs O</text>
<line x1="553.8" y1="816.7" x2="553.8" y2="818.9" stroke="#555" stroke-width="0.6"/>
<text x="641.3" y="827.7" font-size="9.0" text-anchor="middle" fill="#000">O vs NT</text>
<line x1="641.3" y1="816.7" x2="641.3" y2="818.9" stroke="#555" stroke-width="0.6"/>
<text transform="translate(87.6,654.7) rotate(-90)" font-size="10.2" text-anchor="middle" fill="#000">rRNA 2'Ome sites</text>
<text x="0.6" y="791.8" font-size="10.3" fill="#000">SNORD 1p located</text>
<line x1="92.7" y1="761.9" x2="92.7" y2="813.9" stroke="#1a1a1a" stroke-width="1.3"/>
</svg>
</body></html>
